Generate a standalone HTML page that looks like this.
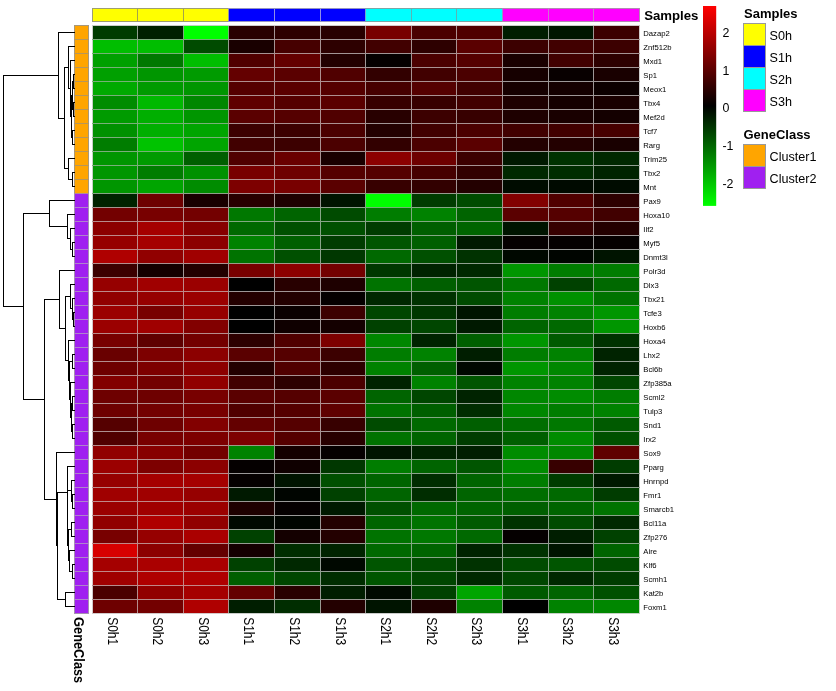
<!DOCTYPE html>
<html><head><meta charset="utf-8"><title>Heatmap</title>
<style>html,body{margin:0;padding:0;background:#fff}svg{display:block}text{font-family:"Liberation Sans",Arial,sans-serif;fill:#000}</style></head><body>
<svg width="836" height="691" viewBox="0 0 836 691">
<rect width="836" height="691" fill="#fff"/>
<g shape-rendering="crispEdges">
<rect x="92" y="8" width="136" height="14" fill="#ffff00"/>
<rect x="228" y="8" width="137" height="14" fill="#0000ff"/>
<rect x="365" y="8" width="137" height="14" fill="#00ffff"/>
<rect x="502" y="8" width="138" height="14" fill="#ff00ff"/>
<rect x="74" y="25" width="15" height="168" fill="#ffa500"/>
<rect x="74" y="193" width="15" height="421" fill="#a020f0"/>
<rect x="92" y="25" width="45" height="14" fill="#003c00"/>
<rect x="137" y="25" width="46" height="14" fill="#002000"/>
<rect x="183" y="25" width="45" height="14" fill="#00ff00"/>
<rect x="228" y="25" width="46" height="14" fill="#280000"/>
<rect x="274" y="25" width="46" height="14" fill="#2d0000"/>
<rect x="320" y="25" width="45" height="14" fill="#280000"/>
<rect x="365" y="25" width="46" height="14" fill="#780000"/>
<rect x="411" y="25" width="45" height="14" fill="#4b0000"/>
<rect x="456" y="25" width="46" height="14" fill="#500000"/>
<rect x="502" y="25" width="46" height="14" fill="#001e00"/>
<rect x="548" y="25" width="45" height="14" fill="#001600"/>
<rect x="593" y="25" width="46" height="14" fill="#3c0000"/>
<rect x="92" y="39" width="45" height="14" fill="#00be00"/>
<rect x="137" y="39" width="46" height="14" fill="#00be00"/>
<rect x="183" y="39" width="45" height="14" fill="#004b00"/>
<rect x="228" y="39" width="46" height="14" fill="#190000"/>
<rect x="274" y="39" width="46" height="14" fill="#460000"/>
<rect x="320" y="39" width="45" height="14" fill="#2d0000"/>
<rect x="365" y="39" width="46" height="14" fill="#410000"/>
<rect x="411" y="39" width="45" height="14" fill="#2d0000"/>
<rect x="456" y="39" width="46" height="14" fill="#5a0000"/>
<rect x="502" y="39" width="46" height="14" fill="#3c0000"/>
<rect x="548" y="39" width="45" height="14" fill="#410000"/>
<rect x="593" y="39" width="46" height="14" fill="#3c0000"/>
<rect x="92" y="53" width="45" height="14" fill="#00a000"/>
<rect x="137" y="53" width="46" height="14" fill="#007800"/>
<rect x="183" y="53" width="45" height="14" fill="#00be00"/>
<rect x="228" y="53" width="46" height="14" fill="#500000"/>
<rect x="274" y="53" width="46" height="14" fill="#640000"/>
<rect x="320" y="53" width="45" height="14" fill="#230000"/>
<rect x="365" y="53" width="46" height="14" fill="#050000"/>
<rect x="411" y="53" width="45" height="14" fill="#4b0000"/>
<rect x="456" y="53" width="46" height="14" fill="#550000"/>
<rect x="502" y="53" width="46" height="14" fill="#190000"/>
<rect x="548" y="53" width="45" height="14" fill="#410000"/>
<rect x="593" y="53" width="46" height="14" fill="#2d0000"/>
<rect x="92" y="67" width="45" height="14" fill="#00a000"/>
<rect x="137" y="67" width="46" height="14" fill="#009600"/>
<rect x="183" y="67" width="45" height="14" fill="#009b00"/>
<rect x="228" y="67" width="46" height="14" fill="#640000"/>
<rect x="274" y="67" width="46" height="14" fill="#5a0000"/>
<rect x="320" y="67" width="45" height="14" fill="#500000"/>
<rect x="365" y="67" width="46" height="14" fill="#320000"/>
<rect x="411" y="67" width="45" height="14" fill="#410000"/>
<rect x="456" y="67" width="46" height="14" fill="#4b0000"/>
<rect x="502" y="67" width="46" height="14" fill="#160000"/>
<rect x="548" y="67" width="45" height="14" fill="#080000"/>
<rect x="593" y="67" width="46" height="14" fill="#190000"/>
<rect x="92" y="81" width="45" height="14" fill="#00aa00"/>
<rect x="137" y="81" width="46" height="14" fill="#009b00"/>
<rect x="183" y="81" width="45" height="14" fill="#009600"/>
<rect x="228" y="81" width="46" height="14" fill="#550000"/>
<rect x="274" y="81" width="46" height="14" fill="#5a0000"/>
<rect x="320" y="81" width="45" height="14" fill="#550000"/>
<rect x="365" y="81" width="46" height="14" fill="#460000"/>
<rect x="411" y="81" width="45" height="14" fill="#550000"/>
<rect x="456" y="81" width="46" height="14" fill="#410000"/>
<rect x="502" y="81" width="46" height="14" fill="#160000"/>
<rect x="548" y="81" width="45" height="14" fill="#140000"/>
<rect x="593" y="81" width="46" height="14" fill="#0c0000"/>
<rect x="92" y="95" width="45" height="14" fill="#008c00"/>
<rect x="137" y="95" width="46" height="14" fill="#00b900"/>
<rect x="183" y="95" width="45" height="14" fill="#008700"/>
<rect x="228" y="95" width="46" height="14" fill="#5f0000"/>
<rect x="274" y="95" width="46" height="14" fill="#550000"/>
<rect x="320" y="95" width="45" height="14" fill="#5a0000"/>
<rect x="365" y="95" width="46" height="14" fill="#370000"/>
<rect x="411" y="95" width="45" height="14" fill="#370000"/>
<rect x="456" y="95" width="46" height="14" fill="#410000"/>
<rect x="502" y="95" width="46" height="14" fill="#1e0000"/>
<rect x="548" y="95" width="45" height="14" fill="#140000"/>
<rect x="593" y="95" width="46" height="14" fill="#190000"/>
<rect x="92" y="109" width="45" height="14" fill="#009b00"/>
<rect x="137" y="109" width="46" height="14" fill="#00af00"/>
<rect x="183" y="109" width="45" height="14" fill="#009600"/>
<rect x="228" y="109" width="46" height="14" fill="#5a0000"/>
<rect x="274" y="109" width="46" height="14" fill="#550000"/>
<rect x="320" y="109" width="45" height="14" fill="#500000"/>
<rect x="365" y="109" width="46" height="14" fill="#280000"/>
<rect x="411" y="109" width="45" height="14" fill="#3c0000"/>
<rect x="456" y="109" width="46" height="14" fill="#370000"/>
<rect x="502" y="109" width="46" height="14" fill="#1e0000"/>
<rect x="548" y="109" width="45" height="14" fill="#190000"/>
<rect x="593" y="109" width="46" height="14" fill="#140000"/>
<rect x="92" y="123" width="45" height="14" fill="#009100"/>
<rect x="137" y="123" width="46" height="14" fill="#00af00"/>
<rect x="183" y="123" width="45" height="14" fill="#00a500"/>
<rect x="228" y="123" width="46" height="14" fill="#3c0000"/>
<rect x="274" y="123" width="46" height="14" fill="#3c0000"/>
<rect x="320" y="123" width="45" height="14" fill="#4b0000"/>
<rect x="365" y="123" width="46" height="14" fill="#230000"/>
<rect x="411" y="123" width="45" height="14" fill="#410000"/>
<rect x="456" y="123" width="46" height="14" fill="#4b0000"/>
<rect x="502" y="123" width="46" height="14" fill="#410000"/>
<rect x="548" y="123" width="45" height="14" fill="#410000"/>
<rect x="593" y="123" width="46" height="14" fill="#460000"/>
<rect x="92" y="137" width="45" height="14" fill="#007d00"/>
<rect x="137" y="137" width="46" height="14" fill="#00c300"/>
<rect x="183" y="137" width="45" height="14" fill="#00a500"/>
<rect x="228" y="137" width="46" height="14" fill="#410000"/>
<rect x="274" y="137" width="46" height="14" fill="#3c0000"/>
<rect x="320" y="137" width="45" height="14" fill="#4b0000"/>
<rect x="365" y="137" width="46" height="14" fill="#320000"/>
<rect x="411" y="137" width="45" height="14" fill="#4b0000"/>
<rect x="456" y="137" width="46" height="14" fill="#5a0000"/>
<rect x="502" y="137" width="46" height="14" fill="#230000"/>
<rect x="548" y="137" width="45" height="14" fill="#230000"/>
<rect x="593" y="137" width="46" height="14" fill="#190000"/>
<rect x="92" y="151" width="45" height="14" fill="#009600"/>
<rect x="137" y="151" width="46" height="14" fill="#009b00"/>
<rect x="183" y="151" width="45" height="14" fill="#005f00"/>
<rect x="228" y="151" width="46" height="14" fill="#500000"/>
<rect x="274" y="151" width="46" height="14" fill="#690000"/>
<rect x="320" y="151" width="45" height="14" fill="#190000"/>
<rect x="365" y="151" width="46" height="14" fill="#8c0000"/>
<rect x="411" y="151" width="45" height="14" fill="#6e0000"/>
<rect x="456" y="151" width="46" height="14" fill="#3c0000"/>
<rect x="502" y="151" width="46" height="14" fill="#001900"/>
<rect x="548" y="151" width="45" height="14" fill="#003200"/>
<rect x="593" y="151" width="46" height="14" fill="#002800"/>
<rect x="92" y="165" width="45" height="14" fill="#009600"/>
<rect x="137" y="165" width="46" height="14" fill="#007d00"/>
<rect x="183" y="165" width="45" height="14" fill="#009100"/>
<rect x="228" y="165" width="46" height="14" fill="#780000"/>
<rect x="274" y="165" width="46" height="14" fill="#6e0000"/>
<rect x="320" y="165" width="45" height="14" fill="#550000"/>
<rect x="365" y="165" width="46" height="14" fill="#550000"/>
<rect x="411" y="165" width="45" height="14" fill="#460000"/>
<rect x="456" y="165" width="46" height="14" fill="#320000"/>
<rect x="502" y="165" width="46" height="14" fill="#002800"/>
<rect x="548" y="165" width="45" height="14" fill="#002d00"/>
<rect x="593" y="165" width="46" height="14" fill="#002300"/>
<rect x="92" y="179" width="45" height="14" fill="#009600"/>
<rect x="137" y="179" width="46" height="14" fill="#00a500"/>
<rect x="183" y="179" width="45" height="14" fill="#008c00"/>
<rect x="228" y="179" width="46" height="14" fill="#7d0000"/>
<rect x="274" y="179" width="46" height="14" fill="#780000"/>
<rect x="320" y="179" width="45" height="14" fill="#5a0000"/>
<rect x="365" y="179" width="46" height="14" fill="#370000"/>
<rect x="411" y="179" width="45" height="14" fill="#320000"/>
<rect x="456" y="179" width="46" height="14" fill="#230000"/>
<rect x="502" y="179" width="46" height="14" fill="#000c00"/>
<rect x="548" y="179" width="45" height="14" fill="#000a00"/>
<rect x="593" y="179" width="46" height="14" fill="#000c00"/>
<rect x="92" y="193" width="45" height="14" fill="#002300"/>
<rect x="137" y="193" width="46" height="14" fill="#6e0000"/>
<rect x="183" y="193" width="45" height="14" fill="#190000"/>
<rect x="228" y="193" width="46" height="14" fill="#280000"/>
<rect x="274" y="193" width="46" height="14" fill="#1e0000"/>
<rect x="320" y="193" width="45" height="14" fill="#001400"/>
<rect x="365" y="193" width="46" height="14" fill="#00ff00"/>
<rect x="411" y="193" width="45" height="14" fill="#003c00"/>
<rect x="456" y="193" width="46" height="14" fill="#004b00"/>
<rect x="502" y="193" width="46" height="14" fill="#820000"/>
<rect x="548" y="193" width="45" height="14" fill="#500000"/>
<rect x="593" y="193" width="46" height="14" fill="#2d0000"/>
<rect x="92" y="207" width="45" height="14" fill="#730000"/>
<rect x="137" y="207" width="46" height="14" fill="#780000"/>
<rect x="183" y="207" width="45" height="14" fill="#730000"/>
<rect x="228" y="207" width="46" height="14" fill="#007800"/>
<rect x="274" y="207" width="46" height="14" fill="#006400"/>
<rect x="320" y="207" width="45" height="14" fill="#004b00"/>
<rect x="365" y="207" width="46" height="14" fill="#007d00"/>
<rect x="411" y="207" width="45" height="14" fill="#008200"/>
<rect x="456" y="207" width="46" height="14" fill="#006400"/>
<rect x="502" y="207" width="46" height="14" fill="#5a0000"/>
<rect x="548" y="207" width="45" height="14" fill="#550000"/>
<rect x="593" y="207" width="46" height="14" fill="#410000"/>
<rect x="92" y="221" width="45" height="14" fill="#8c0000"/>
<rect x="137" y="221" width="46" height="14" fill="#a50000"/>
<rect x="183" y="221" width="45" height="14" fill="#870000"/>
<rect x="228" y="221" width="46" height="14" fill="#006900"/>
<rect x="274" y="221" width="46" height="14" fill="#005000"/>
<rect x="320" y="221" width="45" height="14" fill="#005000"/>
<rect x="365" y="221" width="46" height="14" fill="#003c00"/>
<rect x="411" y="221" width="45" height="14" fill="#005f00"/>
<rect x="456" y="221" width="46" height="14" fill="#006400"/>
<rect x="502" y="221" width="46" height="14" fill="#001400"/>
<rect x="548" y="221" width="45" height="14" fill="#370000"/>
<rect x="593" y="221" width="46" height="14" fill="#230000"/>
<rect x="92" y="235" width="45" height="14" fill="#960000"/>
<rect x="137" y="235" width="46" height="14" fill="#a50000"/>
<rect x="183" y="235" width="45" height="14" fill="#8c0000"/>
<rect x="228" y="235" width="46" height="14" fill="#008200"/>
<rect x="274" y="235" width="46" height="14" fill="#005f00"/>
<rect x="320" y="235" width="45" height="14" fill="#003c00"/>
<rect x="365" y="235" width="46" height="14" fill="#005500"/>
<rect x="411" y="235" width="45" height="14" fill="#005f00"/>
<rect x="456" y="235" width="46" height="14" fill="#001900"/>
<rect x="502" y="235" width="46" height="14" fill="#050000"/>
<rect x="548" y="235" width="45" height="14" fill="#050000"/>
<rect x="593" y="235" width="46" height="14" fill="#050000"/>
<rect x="92" y="249" width="45" height="14" fill="#af0000"/>
<rect x="137" y="249" width="46" height="14" fill="#910000"/>
<rect x="183" y="249" width="45" height="14" fill="#a00000"/>
<rect x="228" y="249" width="46" height="14" fill="#007300"/>
<rect x="274" y="249" width="46" height="14" fill="#005000"/>
<rect x="320" y="249" width="45" height="14" fill="#003700"/>
<rect x="365" y="249" width="46" height="14" fill="#006900"/>
<rect x="411" y="249" width="45" height="14" fill="#005000"/>
<rect x="456" y="249" width="46" height="14" fill="#003200"/>
<rect x="502" y="249" width="46" height="14" fill="#000800"/>
<rect x="548" y="249" width="45" height="14" fill="#000500"/>
<rect x="593" y="249" width="46" height="14" fill="#001400"/>
<rect x="92" y="263" width="45" height="14" fill="#3c0000"/>
<rect x="137" y="263" width="46" height="14" fill="#140000"/>
<rect x="183" y="263" width="45" height="14" fill="#230000"/>
<rect x="228" y="263" width="46" height="14" fill="#780000"/>
<rect x="274" y="263" width="46" height="14" fill="#8c0000"/>
<rect x="320" y="263" width="45" height="14" fill="#730000"/>
<rect x="365" y="263" width="46" height="14" fill="#003700"/>
<rect x="411" y="263" width="45" height="14" fill="#002300"/>
<rect x="456" y="263" width="46" height="14" fill="#002800"/>
<rect x="502" y="263" width="46" height="14" fill="#009600"/>
<rect x="548" y="263" width="45" height="14" fill="#007d00"/>
<rect x="593" y="263" width="46" height="14" fill="#007d00"/>
<rect x="92" y="277" width="45" height="14" fill="#960000"/>
<rect x="137" y="277" width="46" height="14" fill="#a00000"/>
<rect x="183" y="277" width="45" height="14" fill="#9b0000"/>
<rect x="228" y="277" width="46" height="14" fill="#000000"/>
<rect x="274" y="277" width="46" height="14" fill="#280000"/>
<rect x="320" y="277" width="45" height="14" fill="#1e0000"/>
<rect x="365" y="277" width="46" height="14" fill="#007300"/>
<rect x="411" y="277" width="45" height="14" fill="#005f00"/>
<rect x="456" y="277" width="46" height="14" fill="#005500"/>
<rect x="502" y="277" width="46" height="14" fill="#007800"/>
<rect x="548" y="277" width="45" height="14" fill="#004100"/>
<rect x="593" y="277" width="46" height="14" fill="#006900"/>
<rect x="92" y="291" width="45" height="14" fill="#910000"/>
<rect x="137" y="291" width="46" height="14" fill="#960000"/>
<rect x="183" y="291" width="45" height="14" fill="#9b0000"/>
<rect x="228" y="291" width="46" height="14" fill="#230000"/>
<rect x="274" y="291" width="46" height="14" fill="#230000"/>
<rect x="320" y="291" width="45" height="14" fill="#050000"/>
<rect x="365" y="291" width="46" height="14" fill="#002800"/>
<rect x="411" y="291" width="45" height="14" fill="#003200"/>
<rect x="456" y="291" width="46" height="14" fill="#004b00"/>
<rect x="502" y="291" width="46" height="14" fill="#008200"/>
<rect x="548" y="291" width="45" height="14" fill="#009100"/>
<rect x="593" y="291" width="46" height="14" fill="#007300"/>
<rect x="92" y="305" width="45" height="14" fill="#9b0000"/>
<rect x="137" y="305" width="46" height="14" fill="#780000"/>
<rect x="183" y="305" width="45" height="14" fill="#960000"/>
<rect x="228" y="305" width="46" height="14" fill="#000000"/>
<rect x="274" y="305" width="46" height="14" fill="#0a0000"/>
<rect x="320" y="305" width="45" height="14" fill="#3c0000"/>
<rect x="365" y="305" width="46" height="14" fill="#004600"/>
<rect x="411" y="305" width="45" height="14" fill="#003700"/>
<rect x="456" y="305" width="46" height="14" fill="#001400"/>
<rect x="502" y="305" width="46" height="14" fill="#007d00"/>
<rect x="548" y="305" width="45" height="14" fill="#008200"/>
<rect x="593" y="305" width="46" height="14" fill="#009600"/>
<rect x="92" y="319" width="45" height="14" fill="#9b0000"/>
<rect x="137" y="319" width="46" height="14" fill="#a00000"/>
<rect x="183" y="319" width="45" height="14" fill="#820000"/>
<rect x="228" y="319" width="46" height="14" fill="#000000"/>
<rect x="274" y="319" width="46" height="14" fill="#0f0000"/>
<rect x="320" y="319" width="45" height="14" fill="#140000"/>
<rect x="365" y="319" width="46" height="14" fill="#004100"/>
<rect x="411" y="319" width="45" height="14" fill="#004600"/>
<rect x="456" y="319" width="46" height="14" fill="#001900"/>
<rect x="502" y="319" width="46" height="14" fill="#006400"/>
<rect x="548" y="319" width="45" height="14" fill="#006900"/>
<rect x="593" y="319" width="46" height="14" fill="#009600"/>
<rect x="92" y="333" width="45" height="14" fill="#780000"/>
<rect x="137" y="333" width="46" height="14" fill="#5f0000"/>
<rect x="183" y="333" width="45" height="14" fill="#730000"/>
<rect x="228" y="333" width="46" height="14" fill="#2d0000"/>
<rect x="274" y="333" width="46" height="14" fill="#500000"/>
<rect x="320" y="333" width="45" height="14" fill="#7d0000"/>
<rect x="365" y="333" width="46" height="14" fill="#008700"/>
<rect x="411" y="333" width="45" height="14" fill="#002300"/>
<rect x="456" y="333" width="46" height="14" fill="#005f00"/>
<rect x="502" y="333" width="46" height="14" fill="#009600"/>
<rect x="548" y="333" width="45" height="14" fill="#005a00"/>
<rect x="593" y="333" width="46" height="14" fill="#003200"/>
<rect x="92" y="347" width="45" height="14" fill="#690000"/>
<rect x="137" y="347" width="46" height="14" fill="#7d0000"/>
<rect x="183" y="347" width="45" height="14" fill="#8c0000"/>
<rect x="228" y="347" width="46" height="14" fill="#5a0000"/>
<rect x="274" y="347" width="46" height="14" fill="#550000"/>
<rect x="320" y="347" width="45" height="14" fill="#3c0000"/>
<rect x="365" y="347" width="46" height="14" fill="#007d00"/>
<rect x="411" y="347" width="45" height="14" fill="#008200"/>
<rect x="456" y="347" width="46" height="14" fill="#001e00"/>
<rect x="502" y="347" width="46" height="14" fill="#007d00"/>
<rect x="548" y="347" width="45" height="14" fill="#008200"/>
<rect x="593" y="347" width="46" height="14" fill="#002300"/>
<rect x="92" y="361" width="45" height="14" fill="#6e0000"/>
<rect x="137" y="361" width="46" height="14" fill="#7d0000"/>
<rect x="183" y="361" width="45" height="14" fill="#8c0000"/>
<rect x="228" y="361" width="46" height="14" fill="#230000"/>
<rect x="274" y="361" width="46" height="14" fill="#500000"/>
<rect x="320" y="361" width="45" height="14" fill="#2d0000"/>
<rect x="365" y="361" width="46" height="14" fill="#008200"/>
<rect x="411" y="361" width="45" height="14" fill="#005f00"/>
<rect x="456" y="361" width="46" height="14" fill="#000800"/>
<rect x="502" y="361" width="46" height="14" fill="#009600"/>
<rect x="548" y="361" width="45" height="14" fill="#008700"/>
<rect x="593" y="361" width="46" height="14" fill="#002300"/>
<rect x="92" y="375" width="45" height="14" fill="#820000"/>
<rect x="137" y="375" width="46" height="14" fill="#730000"/>
<rect x="183" y="375" width="45" height="14" fill="#910000"/>
<rect x="228" y="375" width="46" height="14" fill="#410000"/>
<rect x="274" y="375" width="46" height="14" fill="#2d0000"/>
<rect x="320" y="375" width="45" height="14" fill="#4b0000"/>
<rect x="365" y="375" width="46" height="14" fill="#002300"/>
<rect x="411" y="375" width="45" height="14" fill="#008200"/>
<rect x="456" y="375" width="46" height="14" fill="#005500"/>
<rect x="502" y="375" width="46" height="14" fill="#008200"/>
<rect x="548" y="375" width="45" height="14" fill="#008200"/>
<rect x="593" y="375" width="46" height="14" fill="#004600"/>
<rect x="92" y="389" width="45" height="14" fill="#6e0000"/>
<rect x="137" y="389" width="46" height="14" fill="#6e0000"/>
<rect x="183" y="389" width="45" height="14" fill="#780000"/>
<rect x="228" y="389" width="46" height="14" fill="#5a0000"/>
<rect x="274" y="389" width="46" height="14" fill="#550000"/>
<rect x="320" y="389" width="45" height="14" fill="#5a0000"/>
<rect x="365" y="389" width="46" height="14" fill="#006400"/>
<rect x="411" y="389" width="45" height="14" fill="#004600"/>
<rect x="456" y="389" width="46" height="14" fill="#002300"/>
<rect x="502" y="389" width="46" height="14" fill="#008700"/>
<rect x="548" y="389" width="45" height="14" fill="#008c00"/>
<rect x="593" y="389" width="46" height="14" fill="#007d00"/>
<rect x="92" y="403" width="45" height="14" fill="#6e0000"/>
<rect x="137" y="403" width="46" height="14" fill="#730000"/>
<rect x="183" y="403" width="45" height="14" fill="#780000"/>
<rect x="228" y="403" width="46" height="14" fill="#500000"/>
<rect x="274" y="403" width="46" height="14" fill="#550000"/>
<rect x="320" y="403" width="45" height="14" fill="#5f0000"/>
<rect x="365" y="403" width="46" height="14" fill="#007300"/>
<rect x="411" y="403" width="45" height="14" fill="#005f00"/>
<rect x="456" y="403" width="46" height="14" fill="#002d00"/>
<rect x="502" y="403" width="46" height="14" fill="#008700"/>
<rect x="548" y="403" width="45" height="14" fill="#007d00"/>
<rect x="593" y="403" width="46" height="14" fill="#008200"/>
<rect x="92" y="417" width="45" height="14" fill="#550000"/>
<rect x="137" y="417" width="46" height="14" fill="#6e0000"/>
<rect x="183" y="417" width="45" height="14" fill="#820000"/>
<rect x="228" y="417" width="46" height="14" fill="#640000"/>
<rect x="274" y="417" width="46" height="14" fill="#550000"/>
<rect x="320" y="417" width="45" height="14" fill="#370000"/>
<rect x="365" y="417" width="46" height="14" fill="#004b00"/>
<rect x="411" y="417" width="45" height="14" fill="#006900"/>
<rect x="456" y="417" width="46" height="14" fill="#005f00"/>
<rect x="502" y="417" width="46" height="14" fill="#006e00"/>
<rect x="548" y="417" width="45" height="14" fill="#007800"/>
<rect x="593" y="417" width="46" height="14" fill="#005a00"/>
<rect x="92" y="431" width="45" height="14" fill="#500000"/>
<rect x="137" y="431" width="46" height="14" fill="#780000"/>
<rect x="183" y="431" width="45" height="14" fill="#7d0000"/>
<rect x="228" y="431" width="46" height="14" fill="#7d0000"/>
<rect x="274" y="431" width="46" height="14" fill="#550000"/>
<rect x="320" y="431" width="45" height="14" fill="#280000"/>
<rect x="365" y="431" width="46" height="14" fill="#007300"/>
<rect x="411" y="431" width="45" height="14" fill="#006400"/>
<rect x="456" y="431" width="46" height="14" fill="#003c00"/>
<rect x="502" y="431" width="46" height="14" fill="#005f00"/>
<rect x="548" y="431" width="45" height="14" fill="#008c00"/>
<rect x="593" y="431" width="46" height="14" fill="#005000"/>
<rect x="92" y="445" width="45" height="14" fill="#910000"/>
<rect x="137" y="445" width="46" height="14" fill="#870000"/>
<rect x="183" y="445" width="45" height="14" fill="#730000"/>
<rect x="228" y="445" width="46" height="14" fill="#008200"/>
<rect x="274" y="445" width="46" height="14" fill="#140000"/>
<rect x="320" y="445" width="45" height="14" fill="#050000"/>
<rect x="365" y="445" width="46" height="14" fill="#001400"/>
<rect x="411" y="445" width="45" height="14" fill="#002300"/>
<rect x="456" y="445" width="46" height="14" fill="#001e00"/>
<rect x="502" y="445" width="46" height="14" fill="#008c00"/>
<rect x="548" y="445" width="45" height="14" fill="#008700"/>
<rect x="593" y="445" width="46" height="14" fill="#5f0000"/>
<rect x="92" y="459" width="45" height="14" fill="#9b0000"/>
<rect x="137" y="459" width="46" height="14" fill="#7d0000"/>
<rect x="183" y="459" width="45" height="14" fill="#8c0000"/>
<rect x="228" y="459" width="46" height="14" fill="#050000"/>
<rect x="274" y="459" width="46" height="14" fill="#0f0000"/>
<rect x="320" y="459" width="45" height="14" fill="#003700"/>
<rect x="365" y="459" width="46" height="14" fill="#007d00"/>
<rect x="411" y="459" width="45" height="14" fill="#006400"/>
<rect x="456" y="459" width="46" height="14" fill="#005500"/>
<rect x="502" y="459" width="46" height="14" fill="#008c00"/>
<rect x="548" y="459" width="45" height="14" fill="#370000"/>
<rect x="593" y="459" width="46" height="14" fill="#003c00"/>
<rect x="92" y="473" width="45" height="14" fill="#960000"/>
<rect x="137" y="473" width="46" height="14" fill="#a50000"/>
<rect x="183" y="473" width="45" height="14" fill="#a50000"/>
<rect x="228" y="473" width="46" height="14" fill="#050000"/>
<rect x="274" y="473" width="46" height="14" fill="#001400"/>
<rect x="320" y="473" width="45" height="14" fill="#005000"/>
<rect x="365" y="473" width="46" height="14" fill="#006400"/>
<rect x="411" y="473" width="45" height="14" fill="#002d00"/>
<rect x="456" y="473" width="46" height="14" fill="#006400"/>
<rect x="502" y="473" width="46" height="14" fill="#007d00"/>
<rect x="548" y="473" width="45" height="14" fill="#003c00"/>
<rect x="593" y="473" width="46" height="14" fill="#001900"/>
<rect x="92" y="487" width="45" height="14" fill="#a00000"/>
<rect x="137" y="487" width="46" height="14" fill="#a00000"/>
<rect x="183" y="487" width="45" height="14" fill="#960000"/>
<rect x="228" y="487" width="46" height="14" fill="#001900"/>
<rect x="274" y="487" width="46" height="14" fill="#000500"/>
<rect x="320" y="487" width="45" height="14" fill="#004100"/>
<rect x="365" y="487" width="46" height="14" fill="#006400"/>
<rect x="411" y="487" width="45" height="14" fill="#002d00"/>
<rect x="456" y="487" width="46" height="14" fill="#006400"/>
<rect x="502" y="487" width="46" height="14" fill="#006e00"/>
<rect x="548" y="487" width="45" height="14" fill="#006900"/>
<rect x="593" y="487" width="46" height="14" fill="#003c00"/>
<rect x="92" y="501" width="45" height="14" fill="#9b0000"/>
<rect x="137" y="501" width="46" height="14" fill="#a00000"/>
<rect x="183" y="501" width="45" height="14" fill="#9b0000"/>
<rect x="228" y="501" width="46" height="14" fill="#1e0000"/>
<rect x="274" y="501" width="46" height="14" fill="#050000"/>
<rect x="320" y="501" width="45" height="14" fill="#001900"/>
<rect x="365" y="501" width="46" height="14" fill="#005000"/>
<rect x="411" y="501" width="45" height="14" fill="#006900"/>
<rect x="456" y="501" width="46" height="14" fill="#006400"/>
<rect x="502" y="501" width="46" height="14" fill="#005f00"/>
<rect x="548" y="501" width="45" height="14" fill="#006400"/>
<rect x="593" y="501" width="46" height="14" fill="#007300"/>
<rect x="92" y="515" width="45" height="14" fill="#910000"/>
<rect x="137" y="515" width="46" height="14" fill="#af0000"/>
<rect x="183" y="515" width="45" height="14" fill="#910000"/>
<rect x="228" y="515" width="46" height="14" fill="#000800"/>
<rect x="274" y="515" width="46" height="14" fill="#000500"/>
<rect x="320" y="515" width="45" height="14" fill="#230000"/>
<rect x="365" y="515" width="46" height="14" fill="#006400"/>
<rect x="411" y="515" width="45" height="14" fill="#007300"/>
<rect x="456" y="515" width="46" height="14" fill="#005a00"/>
<rect x="502" y="515" width="46" height="14" fill="#003200"/>
<rect x="548" y="515" width="45" height="14" fill="#004b00"/>
<rect x="593" y="515" width="46" height="14" fill="#002800"/>
<rect x="92" y="529" width="45" height="14" fill="#780000"/>
<rect x="137" y="529" width="46" height="14" fill="#960000"/>
<rect x="183" y="529" width="45" height="14" fill="#aa0000"/>
<rect x="228" y="529" width="46" height="14" fill="#004100"/>
<rect x="274" y="529" width="46" height="14" fill="#140000"/>
<rect x="320" y="529" width="45" height="14" fill="#230000"/>
<rect x="365" y="529" width="46" height="14" fill="#007300"/>
<rect x="411" y="529" width="45" height="14" fill="#007800"/>
<rect x="456" y="529" width="46" height="14" fill="#006900"/>
<rect x="502" y="529" width="46" height="14" fill="#050000"/>
<rect x="548" y="529" width="45" height="14" fill="#001e00"/>
<rect x="593" y="529" width="46" height="14" fill="#004100"/>
<rect x="92" y="543" width="45" height="14" fill="#d70000"/>
<rect x="137" y="543" width="46" height="14" fill="#8c0000"/>
<rect x="183" y="543" width="45" height="14" fill="#640000"/>
<rect x="228" y="543" width="46" height="14" fill="#140000"/>
<rect x="274" y="543" width="46" height="14" fill="#002d00"/>
<rect x="320" y="543" width="45" height="14" fill="#002300"/>
<rect x="365" y="543" width="46" height="14" fill="#006900"/>
<rect x="411" y="543" width="45" height="14" fill="#006400"/>
<rect x="456" y="543" width="46" height="14" fill="#002300"/>
<rect x="502" y="543" width="46" height="14" fill="#003200"/>
<rect x="548" y="543" width="45" height="14" fill="#001400"/>
<rect x="593" y="543" width="46" height="14" fill="#006400"/>
<rect x="92" y="557" width="45" height="14" fill="#a50000"/>
<rect x="137" y="557" width="46" height="14" fill="#aa0000"/>
<rect x="183" y="557" width="45" height="14" fill="#aa0000"/>
<rect x="228" y="557" width="46" height="14" fill="#004100"/>
<rect x="274" y="557" width="46" height="14" fill="#002800"/>
<rect x="320" y="557" width="45" height="14" fill="#000800"/>
<rect x="365" y="557" width="46" height="14" fill="#005500"/>
<rect x="411" y="557" width="45" height="14" fill="#004b00"/>
<rect x="456" y="557" width="46" height="14" fill="#003200"/>
<rect x="502" y="557" width="46" height="14" fill="#004b00"/>
<rect x="548" y="557" width="45" height="14" fill="#005500"/>
<rect x="593" y="557" width="46" height="14" fill="#004b00"/>
<rect x="92" y="571" width="45" height="14" fill="#a00000"/>
<rect x="137" y="571" width="46" height="14" fill="#af0000"/>
<rect x="183" y="571" width="45" height="14" fill="#af0000"/>
<rect x="228" y="571" width="46" height="14" fill="#005f00"/>
<rect x="274" y="571" width="46" height="14" fill="#004600"/>
<rect x="320" y="571" width="45" height="14" fill="#002d00"/>
<rect x="365" y="571" width="46" height="14" fill="#005500"/>
<rect x="411" y="571" width="45" height="14" fill="#004600"/>
<rect x="456" y="571" width="46" height="14" fill="#002800"/>
<rect x="502" y="571" width="46" height="14" fill="#004600"/>
<rect x="548" y="571" width="45" height="14" fill="#002800"/>
<rect x="593" y="571" width="46" height="14" fill="#003c00"/>
<rect x="92" y="585" width="45" height="14" fill="#4b0000"/>
<rect x="137" y="585" width="46" height="14" fill="#910000"/>
<rect x="183" y="585" width="45" height="14" fill="#a50000"/>
<rect x="228" y="585" width="46" height="14" fill="#640000"/>
<rect x="274" y="585" width="46" height="14" fill="#280000"/>
<rect x="320" y="585" width="45" height="14" fill="#001e00"/>
<rect x="365" y="585" width="46" height="14" fill="#000a00"/>
<rect x="411" y="585" width="45" height="14" fill="#004100"/>
<rect x="456" y="585" width="46" height="14" fill="#00a500"/>
<rect x="502" y="585" width="46" height="14" fill="#005a00"/>
<rect x="548" y="585" width="45" height="14" fill="#006400"/>
<rect x="593" y="585" width="46" height="14" fill="#005000"/>
<rect x="92" y="599" width="45" height="14" fill="#6e0000"/>
<rect x="137" y="599" width="46" height="14" fill="#730000"/>
<rect x="183" y="599" width="45" height="14" fill="#af0000"/>
<rect x="228" y="599" width="46" height="14" fill="#001e00"/>
<rect x="274" y="599" width="46" height="14" fill="#002d00"/>
<rect x="320" y="599" width="45" height="14" fill="#230000"/>
<rect x="365" y="599" width="46" height="14" fill="#001400"/>
<rect x="411" y="599" width="45" height="14" fill="#1e0000"/>
<rect x="456" y="599" width="46" height="14" fill="#008200"/>
<rect x="502" y="599" width="46" height="14" fill="#000000"/>
<rect x="548" y="599" width="45" height="14" fill="#008200"/>
<rect x="593" y="599" width="46" height="14" fill="#008700"/>
<rect x="92" y="25" width="1" height="14" fill="#c9cec9"/>
<rect x="92" y="39" width="1" height="14" fill="#c2d3c2"/>
<rect x="92" y="53" width="1" height="14" fill="#c4d2c4"/>
<rect x="92" y="67" width="1" height="14" fill="#c4d2c4"/>
<rect x="92" y="81" width="1" height="14" fill="#c4d2c4"/>
<rect x="92" y="95" width="1" height="14" fill="#c5d1c5"/>
<rect x="92" y="109" width="1" height="14" fill="#c4d2c4"/>
<rect x="92" y="123" width="1" height="14" fill="#c4d1c4"/>
<rect x="92" y="137" width="1" height="14" fill="#c6d0c6"/>
<rect x="92" y="151" width="1" height="14" fill="#c4d2c4"/>
<rect x="92" y="165" width="1" height="14" fill="#c4d2c4"/>
<rect x="92" y="179" width="1" height="14" fill="#c4d2c4"/>
<rect x="92" y="193" width="1" height="14" fill="#caceca"/>
<rect x="92" y="207" width="1" height="14" fill="#d3c9c9"/>
<rect x="92" y="221" width="1" height="14" fill="#d4c8c8"/>
<rect x="92" y="235" width="1" height="14" fill="#d5c8c8"/>
<rect x="92" y="249" width="1" height="14" fill="#d6c8c8"/>
<rect x="92" y="263" width="1" height="14" fill="#d0caca"/>
<rect x="92" y="277" width="1" height="14" fill="#d5c8c8"/>
<rect x="92" y="291" width="1" height="14" fill="#d5c8c8"/>
<rect x="92" y="305" width="1" height="14" fill="#d6c8c8"/>
<rect x="92" y="319" width="1" height="14" fill="#d6c8c8"/>
<rect x="92" y="333" width="1" height="14" fill="#d4c9c9"/>
<rect x="92" y="347" width="1" height="14" fill="#d2caca"/>
<rect x="92" y="361" width="1" height="14" fill="#d2c9c9"/>
<rect x="92" y="375" width="1" height="14" fill="#d4c8c8"/>
<rect x="92" y="389" width="1" height="14" fill="#d2c9c9"/>
<rect x="92" y="403" width="1" height="14" fill="#d2c9c9"/>
<rect x="92" y="417" width="1" height="14" fill="#d1caca"/>
<rect x="92" y="431" width="1" height="14" fill="#d1caca"/>
<rect x="92" y="445" width="1" height="14" fill="#d5c8c8"/>
<rect x="92" y="459" width="1" height="14" fill="#d6c8c8"/>
<rect x="92" y="473" width="1" height="14" fill="#d5c8c8"/>
<rect x="92" y="487" width="1" height="14" fill="#d6c8c8"/>
<rect x="92" y="501" width="1" height="14" fill="#d6c8c8"/>
<rect x="92" y="515" width="1" height="14" fill="#d5c8c8"/>
<rect x="92" y="529" width="1" height="14" fill="#d4c9c9"/>
<rect x="92" y="543" width="1" height="14" fill="#d9c6c6"/>
<rect x="92" y="557" width="1" height="14" fill="#d6c8c8"/>
<rect x="92" y="571" width="1" height="14" fill="#d6c8c8"/>
<rect x="92" y="585" width="1" height="14" fill="#d0caca"/>
<rect x="92" y="599" width="1" height="14" fill="#d2c9c9"/>
<rect x="137" y="25" width="1" height="14" fill="#90a090"/>
<rect x="137" y="39" width="1" height="14" fill="#72b472"/>
<rect x="137" y="53" width="1" height="14" fill="#7cad7c"/>
<rect x="137" y="67" width="1" height="14" fill="#79af79"/>
<rect x="137" y="81" width="1" height="14" fill="#78b078"/>
<rect x="137" y="95" width="1" height="14" fill="#78b078"/>
<rect x="137" y="109" width="1" height="14" fill="#77b177"/>
<rect x="137" y="123" width="1" height="14" fill="#78b078"/>
<rect x="137" y="137" width="1" height="14" fill="#78b078"/>
<rect x="137" y="151" width="1" height="14" fill="#7aaf7a"/>
<rect x="137" y="165" width="1" height="14" fill="#7dad7d"/>
<rect x="137" y="179" width="1" height="14" fill="#79b079"/>
<rect x="137" y="193" width="1" height="14" fill="#a39690"/>
<rect x="137" y="207" width="1" height="14" fill="#b68d8d"/>
<rect x="137" y="221" width="1" height="14" fill="#be8989"/>
<rect x="137" y="235" width="1" height="14" fill="#c08989"/>
<rect x="137" y="249" width="1" height="14" fill="#c08888"/>
<rect x="137" y="263" width="1" height="14" fill="#a39595"/>
<rect x="137" y="277" width="1" height="14" fill="#bf8989"/>
<rect x="137" y="291" width="1" height="14" fill="#bd8a8a"/>
<rect x="137" y="305" width="1" height="14" fill="#bb8b8b"/>
<rect x="137" y="319" width="1" height="14" fill="#c08989"/>
<rect x="137" y="333" width="1" height="14" fill="#b38e8e"/>
<rect x="137" y="347" width="1" height="14" fill="#b58d8d"/>
<rect x="137" y="361" width="1" height="14" fill="#b68d8d"/>
<rect x="137" y="375" width="1" height="14" fill="#b78c8c"/>
<rect x="137" y="389" width="1" height="14" fill="#b48d8d"/>
<rect x="137" y="403" width="1" height="14" fill="#b58d8d"/>
<rect x="137" y="417" width="1" height="14" fill="#b18f8f"/>
<rect x="137" y="431" width="1" height="14" fill="#b28f8f"/>
<rect x="137" y="445" width="1" height="14" fill="#bb8a8a"/>
<rect x="137" y="459" width="1" height="14" fill="#bb8a8a"/>
<rect x="137" y="473" width="1" height="14" fill="#c08989"/>
<rect x="137" y="487" width="1" height="14" fill="#c08888"/>
<rect x="137" y="501" width="1" height="14" fill="#c08989"/>
<rect x="137" y="515" width="1" height="14" fill="#c08888"/>
<rect x="137" y="529" width="1" height="14" fill="#ba8b8b"/>
<rect x="137" y="543" width="1" height="14" fill="#c58686"/>
<rect x="137" y="557" width="1" height="14" fill="#c28787"/>
<rect x="137" y="571" width="1" height="14" fill="#c28787"/>
<rect x="137" y="585" width="1" height="14" fill="#b48d8d"/>
<rect x="137" y="599" width="1" height="14" fill="#b58d8d"/>
<rect x="183" y="25" width="1" height="14" fill="#7cae7c"/>
<rect x="183" y="39" width="1" height="14" fill="#7eac7e"/>
<rect x="183" y="53" width="1" height="14" fill="#79af79"/>
<rect x="183" y="67" width="1" height="14" fill="#7aaf7a"/>
<rect x="183" y="81" width="1" height="14" fill="#7aaf7a"/>
<rect x="183" y="95" width="1" height="14" fill="#78b078"/>
<rect x="183" y="109" width="1" height="14" fill="#78b078"/>
<rect x="183" y="123" width="1" height="14" fill="#76b276"/>
<rect x="183" y="137" width="1" height="14" fill="#74b374"/>
<rect x="183" y="151" width="1" height="14" fill="#7fab7f"/>
<rect x="183" y="165" width="1" height="14" fill="#7dad7d"/>
<rect x="183" y="179" width="1" height="14" fill="#7aaf7a"/>
<rect x="183" y="193" width="1" height="14" fill="#aa9292"/>
<rect x="183" y="207" width="1" height="14" fill="#b68d8d"/>
<rect x="183" y="221" width="1" height="14" fill="#be8989"/>
<rect x="183" y="235" width="1" height="14" fill="#be8989"/>
<rect x="183" y="249" width="1" height="14" fill="#be8989"/>
<rect x="183" y="263" width="1" height="14" fill="#a09696"/>
<rect x="183" y="277" width="1" height="14" fill="#c08989"/>
<rect x="183" y="291" width="1" height="14" fill="#be8989"/>
<rect x="183" y="305" width="1" height="14" fill="#ba8b8b"/>
<rect x="183" y="319" width="1" height="14" fill="#bd8a8a"/>
<rect x="183" y="333" width="1" height="14" fill="#b38e8e"/>
<rect x="183" y="347" width="1" height="14" fill="#ba8b8b"/>
<rect x="183" y="361" width="1" height="14" fill="#ba8b8b"/>
<rect x="183" y="375" width="1" height="14" fill="#b98b8b"/>
<rect x="183" y="389" width="1" height="14" fill="#b58d8d"/>
<rect x="183" y="403" width="1" height="14" fill="#b68d8d"/>
<rect x="183" y="417" width="1" height="14" fill="#b68c8c"/>
<rect x="183" y="431" width="1" height="14" fill="#b78c8c"/>
<rect x="183" y="445" width="1" height="14" fill="#b88c8c"/>
<rect x="183" y="459" width="1" height="14" fill="#ba8b8b"/>
<rect x="183" y="473" width="1" height="14" fill="#c18888"/>
<rect x="183" y="487" width="1" height="14" fill="#bf8989"/>
<rect x="183" y="501" width="1" height="14" fill="#c08989"/>
<rect x="183" y="515" width="1" height="14" fill="#c08888"/>
<rect x="183" y="529" width="1" height="14" fill="#c08888"/>
<rect x="183" y="543" width="1" height="14" fill="#b68c8c"/>
<rect x="183" y="557" width="1" height="14" fill="#c38787"/>
<rect x="183" y="571" width="1" height="14" fill="#c48787"/>
<rect x="183" y="585" width="1" height="14" fill="#bf8989"/>
<rect x="183" y="599" width="1" height="14" fill="#bd8a8a"/>
<rect x="228" y="25" width="1" height="14" fill="#84a97d"/>
<rect x="228" y="39" width="1" height="14" fill="#949d90"/>
<rect x="228" y="53" width="1" height="14" fill="#8fa381"/>
<rect x="228" y="67" width="1" height="14" fill="#959f84"/>
<rect x="228" y="81" width="1" height="14" fill="#949f85"/>
<rect x="228" y="95" width="1" height="14" fill="#979e86"/>
<rect x="228" y="109" width="1" height="14" fill="#959f85"/>
<rect x="228" y="123" width="1" height="14" fill="#8fa285"/>
<rect x="228" y="137" width="1" height="14" fill="#90a285"/>
<rect x="228" y="151" width="1" height="14" fill="#999c8b"/>
<rect x="228" y="165" width="1" height="14" fill="#999d84"/>
<rect x="228" y="179" width="1" height="14" fill="#9a9d84"/>
<rect x="228" y="193" width="1" height="14" fill="#a19696"/>
<rect x="228" y="207" width="1" height="14" fill="#9b9c87"/>
<rect x="228" y="221" width="1" height="14" fill="#9f9a87"/>
<rect x="228" y="235" width="1" height="14" fill="#9d9b84"/>
<rect x="228" y="249" width="1" height="14" fill="#a19985"/>
<rect x="228" y="263" width="1" height="14" fill="#ac9191"/>
<rect x="228" y="277" width="1" height="14" fill="#ac9191"/>
<rect x="228" y="291" width="1" height="14" fill="#b08f8f"/>
<rect x="228" y="305" width="1" height="14" fill="#ab9191"/>
<rect x="228" y="319" width="1" height="14" fill="#a99292"/>
<rect x="228" y="333" width="1" height="14" fill="#ad9191"/>
<rect x="228" y="347" width="1" height="14" fill="#b58d8d"/>
<rect x="228" y="361" width="1" height="14" fill="#ae9090"/>
<rect x="228" y="375" width="1" height="14" fill="#b38e8e"/>
<rect x="228" y="389" width="1" height="14" fill="#b38e8e"/>
<rect x="228" y="403" width="1" height="14" fill="#b28f8f"/>
<rect x="228" y="417" width="1" height="14" fill="#b58d8d"/>
<rect x="228" y="431" width="1" height="14" fill="#b88c8c"/>
<rect x="228" y="445" width="1" height="14" fill="#9a9c86"/>
<rect x="228" y="459" width="1" height="14" fill="#ab9191"/>
<rect x="228" y="473" width="1" height="14" fill="#ae9090"/>
<rect x="228" y="487" width="1" height="14" fill="#a9938f"/>
<rect x="228" y="501" width="1" height="14" fill="#b08f8f"/>
<rect x="228" y="515" width="1" height="14" fill="#aa9291"/>
<rect x="228" y="529" width="1" height="14" fill="#a79589"/>
<rect x="228" y="543" width="1" height="14" fill="#a89393"/>
<rect x="228" y="557" width="1" height="14" fill="#a79589"/>
<rect x="228" y="571" width="1" height="14" fill="#a59786"/>
<rect x="228" y="585" width="1" height="14" fill="#ba8b8b"/>
<rect x="228" y="599" width="1" height="14" fill="#ab928d"/>
<rect x="274" y="25" width="1" height="14" fill="#a39595"/>
<rect x="274" y="39" width="1" height="14" fill="#a59494"/>
<rect x="274" y="53" width="1" height="14" fill="#af9090"/>
<rect x="274" y="67" width="1" height="14" fill="#b08f8f"/>
<rect x="274" y="81" width="1" height="14" fill="#ae9090"/>
<rect x="274" y="95" width="1" height="14" fill="#af9090"/>
<rect x="274" y="109" width="1" height="14" fill="#ae9090"/>
<rect x="274" y="123" width="1" height="14" fill="#a89393"/>
<rect x="274" y="137" width="1" height="14" fill="#a89292"/>
<rect x="274" y="151" width="1" height="14" fill="#b08f8f"/>
<rect x="274" y="165" width="1" height="14" fill="#b58d8d"/>
<rect x="274" y="179" width="1" height="14" fill="#b78c8c"/>
<rect x="274" y="193" width="1" height="14" fill="#a29595"/>
<rect x="274" y="207" width="1" height="14" fill="#82a982"/>
<rect x="274" y="221" width="1" height="14" fill="#86a686"/>
<rect x="274" y="235" width="1" height="14" fill="#82a982"/>
<rect x="274" y="249" width="1" height="14" fill="#85a785"/>
<rect x="274" y="263" width="1" height="14" fill="#b98b8b"/>
<rect x="274" y="277" width="1" height="14" fill="#9e9797"/>
<rect x="274" y="291" width="1" height="14" fill="#a29595"/>
<rect x="274" y="305" width="1" height="14" fill="#9a9898"/>
<rect x="274" y="319" width="1" height="14" fill="#9b9898"/>
<rect x="274" y="333" width="1" height="14" fill="#a89292"/>
<rect x="274" y="347" width="1" height="14" fill="#ae9090"/>
<rect x="274" y="361" width="1" height="14" fill="#a79393"/>
<rect x="274" y="375" width="1" height="14" fill="#a69393"/>
<rect x="274" y="389" width="1" height="14" fill="#ae9090"/>
<rect x="274" y="403" width="1" height="14" fill="#ad9090"/>
<rect x="274" y="417" width="1" height="14" fill="#b08f8f"/>
<rect x="274" y="431" width="1" height="14" fill="#b38e8e"/>
<rect x="274" y="445" width="1" height="14" fill="#8ea18b"/>
<rect x="274" y="459" width="1" height="14" fill="#9b9898"/>
<rect x="274" y="473" width="1" height="14" fill="#989a97"/>
<rect x="274" y="487" width="1" height="14" fill="#969b96"/>
<rect x="274" y="501" width="1" height="14" fill="#9d9797"/>
<rect x="274" y="515" width="1" height="14" fill="#989a98"/>
<rect x="274" y="529" width="1" height="14" fill="#959d91"/>
<rect x="274" y="543" width="1" height="14" fill="#979b93"/>
<rect x="274" y="557" width="1" height="14" fill="#8ea18e"/>
<rect x="274" y="571" width="1" height="14" fill="#88a588"/>
<rect x="274" y="585" width="1" height="14" fill="#aa9292"/>
<rect x="274" y="599" width="1" height="14" fill="#919e91"/>
<rect x="320" y="25" width="1" height="14" fill="#a39595"/>
<rect x="320" y="39" width="1" height="14" fill="#a79393"/>
<rect x="320" y="53" width="1" height="14" fill="#aa9292"/>
<rect x="320" y="67" width="1" height="14" fill="#ae9090"/>
<rect x="320" y="81" width="1" height="14" fill="#ae9090"/>
<rect x="320" y="95" width="1" height="14" fill="#ae9090"/>
<rect x="320" y="109" width="1" height="14" fill="#ad9090"/>
<rect x="320" y="123" width="1" height="14" fill="#aa9292"/>
<rect x="320" y="137" width="1" height="14" fill="#aa9292"/>
<rect x="320" y="151" width="1" height="14" fill="#a99292"/>
<rect x="320" y="165" width="1" height="14" fill="#b18f8f"/>
<rect x="320" y="179" width="1" height="14" fill="#b38e8e"/>
<rect x="320" y="193" width="1" height="14" fill="#9b9995"/>
<rect x="320" y="207" width="1" height="14" fill="#87a687"/>
<rect x="320" y="221" width="1" height="14" fill="#89a589"/>
<rect x="320" y="235" width="1" height="14" fill="#89a489"/>
<rect x="320" y="249" width="1" height="14" fill="#8ba38b"/>
<rect x="320" y="263" width="1" height="14" fill="#b88c8c"/>
<rect x="320" y="277" width="1" height="14" fill="#a29595"/>
<rect x="320" y="291" width="1" height="14" fill="#9e9797"/>
<rect x="320" y="305" width="1" height="14" fill="#a29595"/>
<rect x="320" y="319" width="1" height="14" fill="#9d9797"/>
<rect x="320" y="333" width="1" height="14" fill="#b28e8e"/>
<rect x="320" y="347" width="1" height="14" fill="#ab9191"/>
<rect x="320" y="361" width="1" height="14" fill="#a89292"/>
<rect x="320" y="375" width="1" height="14" fill="#a89393"/>
<rect x="320" y="389" width="1" height="14" fill="#ae9090"/>
<rect x="320" y="403" width="1" height="14" fill="#af9090"/>
<rect x="320" y="417" width="1" height="14" fill="#aa9292"/>
<rect x="320" y="431" width="1" height="14" fill="#a89292"/>
<rect x="320" y="445" width="1" height="14" fill="#9c9898"/>
<rect x="320" y="459" width="1" height="14" fill="#959c93"/>
<rect x="320" y="473" width="1" height="14" fill="#8fa08f"/>
<rect x="320" y="487" width="1" height="14" fill="#929e92"/>
<rect x="320" y="501" width="1" height="14" fill="#979b96"/>
<rect x="320" y="515" width="1" height="14" fill="#9d9897"/>
<rect x="320" y="529" width="1" height="14" fill="#a09696"/>
<rect x="320" y="543" width="1" height="14" fill="#919f91"/>
<rect x="320" y="557" width="1" height="14" fill="#949c94"/>
<rect x="320" y="571" width="1" height="14" fill="#8da18d"/>
<rect x="320" y="585" width="1" height="14" fill="#9b9994"/>
<rect x="320" y="599" width="1" height="14" fill="#999a93"/>
<rect x="365" y="25" width="1" height="14" fill="#ad9191"/>
<rect x="365" y="39" width="1" height="14" fill="#a69393"/>
<rect x="365" y="53" width="1" height="14" fill="#9e9797"/>
<rect x="365" y="67" width="1" height="14" fill="#a99292"/>
<rect x="365" y="81" width="1" height="14" fill="#ac9191"/>
<rect x="365" y="95" width="1" height="14" fill="#ab9191"/>
<rect x="365" y="109" width="1" height="14" fill="#a89393"/>
<rect x="365" y="123" width="1" height="14" fill="#a69393"/>
<rect x="365" y="137" width="1" height="14" fill="#a89292"/>
<rect x="365" y="151" width="1" height="14" fill="#ad9090"/>
<rect x="365" y="165" width="1" height="14" fill="#ae9090"/>
<rect x="365" y="179" width="1" height="14" fill="#ab9191"/>
<rect x="365" y="193" width="1" height="14" fill="#7dad7d"/>
<rect x="365" y="207" width="1" height="14" fill="#84a784"/>
<rect x="365" y="221" width="1" height="14" fill="#8ba38b"/>
<rect x="365" y="235" width="1" height="14" fill="#8aa38a"/>
<rect x="365" y="249" width="1" height="14" fill="#89a589"/>
<rect x="365" y="263" width="1" height="14" fill="#a1978d"/>
<rect x="365" y="277" width="1" height="14" fill="#91a08c"/>
<rect x="365" y="291" width="1" height="14" fill="#969c95"/>
<rect x="365" y="305" width="1" height="14" fill="#999b8f"/>
<rect x="365" y="319" width="1" height="14" fill="#959d91"/>
<rect x="365" y="333" width="1" height="14" fill="#9a9c85"/>
<rect x="365" y="347" width="1" height="14" fill="#949f89"/>
<rect x="365" y="361" width="1" height="14" fill="#91a089"/>
<rect x="365" y="375" width="1" height="14" fill="#9f9891"/>
<rect x="365" y="389" width="1" height="14" fill="#9a9c8a"/>
<rect x="365" y="403" width="1" height="14" fill="#999c88"/>
<rect x="365" y="417" width="1" height="14" fill="#989c8e"/>
<rect x="365" y="431" width="1" height="14" fill="#929f8b"/>
<rect x="365" y="445" width="1" height="14" fill="#989a97"/>
<rect x="365" y="459" width="1" height="14" fill="#87a687"/>
<rect x="365" y="473" width="1" height="14" fill="#87a687"/>
<rect x="365" y="487" width="1" height="14" fill="#88a588"/>
<rect x="365" y="501" width="1" height="14" fill="#8ea18e"/>
<rect x="365" y="515" width="1" height="14" fill="#939e8d"/>
<rect x="365" y="529" width="1" height="14" fill="#919f8b"/>
<rect x="365" y="543" width="1" height="14" fill="#8ba38b"/>
<rect x="365" y="557" width="1" height="14" fill="#8fa08f"/>
<rect x="365" y="571" width="1" height="14" fill="#8ca28c"/>
<rect x="365" y="585" width="1" height="14" fill="#959c95"/>
<rect x="365" y="599" width="1" height="14" fill="#9b9995"/>
<rect x="411" y="25" width="1" height="14" fill="#b18f8f"/>
<rect x="411" y="39" width="1" height="14" fill="#a69393"/>
<rect x="411" y="53" width="1" height="14" fill="#a39595"/>
<rect x="411" y="67" width="1" height="14" fill="#a79393"/>
<rect x="411" y="81" width="1" height="14" fill="#ac9191"/>
<rect x="411" y="95" width="1" height="14" fill="#a69393"/>
<rect x="411" y="109" width="1" height="14" fill="#a59494"/>
<rect x="411" y="123" width="1" height="14" fill="#a59494"/>
<rect x="411" y="137" width="1" height="14" fill="#a89292"/>
<rect x="411" y="151" width="1" height="14" fill="#b88c8c"/>
<rect x="411" y="165" width="1" height="14" fill="#ac9191"/>
<rect x="411" y="179" width="1" height="14" fill="#a69494"/>
<rect x="411" y="193" width="1" height="14" fill="#79b079"/>
<rect x="411" y="207" width="1" height="14" fill="#7fab7f"/>
<rect x="411" y="221" width="1" height="14" fill="#89a489"/>
<rect x="411" y="235" width="1" height="14" fill="#87a687"/>
<rect x="411" y="249" width="1" height="14" fill="#86a686"/>
<rect x="411" y="263" width="1" height="14" fill="#90a090"/>
<rect x="411" y="277" width="1" height="14" fill="#83a883"/>
<rect x="411" y="291" width="1" height="14" fill="#90a090"/>
<rect x="411" y="305" width="1" height="14" fill="#8ca28c"/>
<rect x="411" y="319" width="1" height="14" fill="#8ba38b"/>
<rect x="411" y="333" width="1" height="14" fill="#88a588"/>
<rect x="411" y="347" width="1" height="14" fill="#7fab7f"/>
<rect x="411" y="361" width="1" height="14" fill="#82a982"/>
<rect x="411" y="375" width="1" height="14" fill="#88a588"/>
<rect x="411" y="389" width="1" height="14" fill="#88a588"/>
<rect x="411" y="403" width="1" height="14" fill="#83a883"/>
<rect x="411" y="417" width="1" height="14" fill="#87a687"/>
<rect x="411" y="431" width="1" height="14" fill="#83a983"/>
<rect x="411" y="445" width="1" height="14" fill="#939d93"/>
<rect x="411" y="459" width="1" height="14" fill="#82a982"/>
<rect x="411" y="473" width="1" height="14" fill="#8aa38a"/>
<rect x="411" y="487" width="1" height="14" fill="#8aa38a"/>
<rect x="411" y="501" width="1" height="14" fill="#86a686"/>
<rect x="411" y="515" width="1" height="14" fill="#83a983"/>
<rect x="411" y="529" width="1" height="14" fill="#81aa81"/>
<rect x="411" y="543" width="1" height="14" fill="#84a884"/>
<rect x="411" y="557" width="1" height="14" fill="#89a589"/>
<rect x="411" y="571" width="1" height="14" fill="#89a489"/>
<rect x="411" y="585" width="1" height="14" fill="#919e91"/>
<rect x="411" y="599" width="1" height="14" fill="#9b9995"/>
<rect x="456" y="25" width="1" height="14" fill="#ac9191"/>
<rect x="456" y="39" width="1" height="14" fill="#aa9292"/>
<rect x="456" y="53" width="1" height="14" fill="#ad9191"/>
<rect x="456" y="67" width="1" height="14" fill="#aa9292"/>
<rect x="456" y="81" width="1" height="14" fill="#ab9191"/>
<rect x="456" y="95" width="1" height="14" fill="#a89393"/>
<rect x="456" y="109" width="1" height="14" fill="#a79393"/>
<rect x="456" y="123" width="1" height="14" fill="#aa9292"/>
<rect x="456" y="137" width="1" height="14" fill="#ad9090"/>
<rect x="456" y="151" width="1" height="14" fill="#ae9090"/>
<rect x="456" y="165" width="1" height="14" fill="#a89393"/>
<rect x="456" y="179" width="1" height="14" fill="#a39595"/>
<rect x="456" y="193" width="1" height="14" fill="#8ba38b"/>
<rect x="456" y="207" width="1" height="14" fill="#81aa81"/>
<rect x="456" y="221" width="1" height="14" fill="#85a785"/>
<rect x="456" y="235" width="1" height="14" fill="#8da28d"/>
<rect x="456" y="249" width="1" height="14" fill="#8ca28c"/>
<rect x="456" y="263" width="1" height="14" fill="#919e91"/>
<rect x="456" y="277" width="1" height="14" fill="#87a687"/>
<rect x="456" y="291" width="1" height="14" fill="#8ca28c"/>
<rect x="456" y="305" width="1" height="14" fill="#919e91"/>
<rect x="456" y="319" width="1" height="14" fill="#8fa08f"/>
<rect x="456" y="333" width="1" height="14" fill="#8ca28c"/>
<rect x="456" y="347" width="1" height="14" fill="#89a589"/>
<rect x="456" y="361" width="1" height="14" fill="#8ea08e"/>
<rect x="456" y="375" width="1" height="14" fill="#83a983"/>
<rect x="456" y="389" width="1" height="14" fill="#8ea18e"/>
<rect x="456" y="403" width="1" height="14" fill="#8ba38b"/>
<rect x="456" y="417" width="1" height="14" fill="#84a784"/>
<rect x="456" y="431" width="1" height="14" fill="#89a589"/>
<rect x="456" y="445" width="1" height="14" fill="#929e92"/>
<rect x="456" y="459" width="1" height="14" fill="#86a686"/>
<rect x="456" y="473" width="1" height="14" fill="#8aa38a"/>
<rect x="456" y="487" width="1" height="14" fill="#8aa38a"/>
<rect x="456" y="501" width="1" height="14" fill="#84a884"/>
<rect x="456" y="515" width="1" height="14" fill="#84a884"/>
<rect x="456" y="529" width="1" height="14" fill="#82a982"/>
<rect x="456" y="543" width="1" height="14" fill="#8ba38b"/>
<rect x="456" y="557" width="1" height="14" fill="#8ca28c"/>
<rect x="456" y="571" width="1" height="14" fill="#8ea18e"/>
<rect x="456" y="585" width="1" height="14" fill="#81aa81"/>
<rect x="456" y="599" width="1" height="14" fill="#8fa18a"/>
<rect x="502" y="25" width="1" height="14" fill="#a09792"/>
<rect x="502" y="39" width="1" height="14" fill="#ab9191"/>
<rect x="502" y="53" width="1" height="14" fill="#a69393"/>
<rect x="502" y="67" width="1" height="14" fill="#a59494"/>
<rect x="502" y="81" width="1" height="14" fill="#a49494"/>
<rect x="502" y="95" width="1" height="14" fill="#a59494"/>
<rect x="502" y="109" width="1" height="14" fill="#a39595"/>
<rect x="502" y="123" width="1" height="14" fill="#aa9292"/>
<rect x="502" y="137" width="1" height="14" fill="#a89292"/>
<rect x="502" y="151" width="1" height="14" fill="#9e9893"/>
<rect x="502" y="165" width="1" height="14" fill="#9b9992"/>
<rect x="502" y="179" width="1" height="14" fill="#9c9896"/>
<rect x="502" y="193" width="1" height="14" fill="#a1988a"/>
<rect x="502" y="207" width="1" height="14" fill="#9a9c8a"/>
<rect x="502" y="221" width="1" height="14" fill="#8da28d"/>
<rect x="502" y="235" width="1" height="14" fill="#979b96"/>
<rect x="502" y="249" width="1" height="14" fill="#939d93"/>
<rect x="502" y="263" width="1" height="14" fill="#85a785"/>
<rect x="502" y="277" width="1" height="14" fill="#84a884"/>
<rect x="502" y="291" width="1" height="14" fill="#84a884"/>
<rect x="502" y="305" width="1" height="14" fill="#8aa38a"/>
<rect x="502" y="319" width="1" height="14" fill="#8ca28c"/>
<rect x="502" y="333" width="1" height="14" fill="#80ab80"/>
<rect x="502" y="347" width="1" height="14" fill="#89a489"/>
<rect x="502" y="361" width="1" height="14" fill="#89a489"/>
<rect x="502" y="375" width="1" height="14" fill="#83a983"/>
<rect x="502" y="389" width="1" height="14" fill="#88a588"/>
<rect x="502" y="403" width="1" height="14" fill="#87a687"/>
<rect x="502" y="417" width="1" height="14" fill="#84a884"/>
<rect x="502" y="431" width="1" height="14" fill="#89a489"/>
<rect x="502" y="445" width="1" height="14" fill="#88a588"/>
<rect x="502" y="459" width="1" height="14" fill="#82a982"/>
<rect x="502" y="473" width="1" height="14" fill="#82a982"/>
<rect x="502" y="487" width="1" height="14" fill="#83a883"/>
<rect x="502" y="501" width="1" height="14" fill="#85a785"/>
<rect x="502" y="515" width="1" height="14" fill="#8ba38b"/>
<rect x="502" y="529" width="1" height="14" fill="#8fa08e"/>
<rect x="502" y="543" width="1" height="14" fill="#909f90"/>
<rect x="502" y="557" width="1" height="14" fill="#8ca28c"/>
<rect x="502" y="571" width="1" height="14" fill="#8ea18e"/>
<rect x="502" y="585" width="1" height="14" fill="#7fab7f"/>
<rect x="502" y="599" width="1" height="14" fill="#8ca28c"/>
<rect x="548" y="25" width="1" height="14" fill="#949d94"/>
<rect x="548" y="39" width="1" height="14" fill="#a89292"/>
<rect x="548" y="53" width="1" height="14" fill="#a49494"/>
<rect x="548" y="67" width="1" height="14" fill="#9d9797"/>
<rect x="548" y="81" width="1" height="14" fill="#9e9797"/>
<rect x="548" y="95" width="1" height="14" fill="#9f9696"/>
<rect x="548" y="109" width="1" height="14" fill="#a09696"/>
<rect x="548" y="123" width="1" height="14" fill="#a99292"/>
<rect x="548" y="137" width="1" height="14" fill="#a29595"/>
<rect x="548" y="151" width="1" height="14" fill="#919e91"/>
<rect x="548" y="165" width="1" height="14" fill="#909f90"/>
<rect x="548" y="179" width="1" height="14" fill="#979b97"/>
<rect x="548" y="193" width="1" height="14" fill="#b38e8e"/>
<rect x="548" y="207" width="1" height="14" fill="#ae9090"/>
<rect x="548" y="221" width="1" height="14" fill="#9e9894"/>
<rect x="548" y="235" width="1" height="14" fill="#9a9898"/>
<rect x="548" y="249" width="1" height="14" fill="#989a98"/>
<rect x="548" y="263" width="1" height="14" fill="#7dad7d"/>
<rect x="548" y="277" width="1" height="14" fill="#86a686"/>
<rect x="548" y="291" width="1" height="14" fill="#7dad7d"/>
<rect x="548" y="305" width="1" height="14" fill="#7fab7f"/>
<rect x="548" y="319" width="1" height="14" fill="#84a884"/>
<rect x="548" y="333" width="1" height="14" fill="#80aa80"/>
<rect x="548" y="347" width="1" height="14" fill="#7fab7f"/>
<rect x="548" y="361" width="1" height="14" fill="#7cae7c"/>
<rect x="548" y="375" width="1" height="14" fill="#7eac7e"/>
<rect x="548" y="389" width="1" height="14" fill="#7dad7d"/>
<rect x="548" y="403" width="1" height="14" fill="#7eac7e"/>
<rect x="548" y="417" width="1" height="14" fill="#81aa81"/>
<rect x="548" y="431" width="1" height="14" fill="#81aa81"/>
<rect x="548" y="445" width="1" height="14" fill="#7dad7d"/>
<rect x="548" y="459" width="1" height="14" fill="#91a088"/>
<rect x="548" y="473" width="1" height="14" fill="#86a686"/>
<rect x="548" y="487" width="1" height="14" fill="#83a983"/>
<rect x="548" y="501" width="1" height="14" fill="#85a785"/>
<rect x="548" y="515" width="1" height="14" fill="#8ca28c"/>
<rect x="548" y="529" width="1" height="14" fill="#979b96"/>
<rect x="548" y="543" width="1" height="14" fill="#929e92"/>
<rect x="548" y="557" width="1" height="14" fill="#89a589"/>
<rect x="548" y="571" width="1" height="14" fill="#8ea18e"/>
<rect x="548" y="585" width="1" height="14" fill="#85a785"/>
<rect x="548" y="599" width="1" height="14" fill="#8ca28c"/>
<rect x="593" y="25" width="1" height="14" fill="#9e9794"/>
<rect x="593" y="39" width="1" height="14" fill="#a89292"/>
<rect x="593" y="53" width="1" height="14" fill="#a69393"/>
<rect x="593" y="67" width="1" height="14" fill="#9d9797"/>
<rect x="593" y="81" width="1" height="14" fill="#9d9797"/>
<rect x="593" y="95" width="1" height="14" fill="#9f9797"/>
<rect x="593" y="109" width="1" height="14" fill="#9f9797"/>
<rect x="593" y="123" width="1" height="14" fill="#aa9292"/>
<rect x="593" y="137" width="1" height="14" fill="#a09696"/>
<rect x="593" y="151" width="1" height="14" fill="#90a090"/>
<rect x="593" y="165" width="1" height="14" fill="#919f91"/>
<rect x="593" y="179" width="1" height="14" fill="#979b97"/>
<rect x="593" y="193" width="1" height="14" fill="#a89292"/>
<rect x="593" y="207" width="1" height="14" fill="#ab9191"/>
<rect x="593" y="221" width="1" height="14" fill="#a49494"/>
<rect x="593" y="235" width="1" height="14" fill="#9a9898"/>
<rect x="593" y="249" width="1" height="14" fill="#969b96"/>
<rect x="593" y="263" width="1" height="14" fill="#7fab7f"/>
<rect x="593" y="277" width="1" height="14" fill="#88a588"/>
<rect x="593" y="291" width="1" height="14" fill="#7eac7e"/>
<rect x="593" y="305" width="1" height="14" fill="#7cad7c"/>
<rect x="593" y="319" width="1" height="14" fill="#7fab7f"/>
<rect x="593" y="333" width="1" height="14" fill="#8ba38b"/>
<rect x="593" y="347" width="1" height="14" fill="#88a588"/>
<rect x="593" y="361" width="1" height="14" fill="#88a588"/>
<rect x="593" y="375" width="1" height="14" fill="#84a784"/>
<rect x="593" y="389" width="1" height="14" fill="#7eac7e"/>
<rect x="593" y="403" width="1" height="14" fill="#7fab7f"/>
<rect x="593" y="417" width="1" height="14" fill="#83a883"/>
<rect x="593" y="431" width="1" height="14" fill="#82a982"/>
<rect x="593" y="445" width="1" height="14" fill="#979e86"/>
<rect x="593" y="459" width="1" height="14" fill="#9a9a90"/>
<rect x="593" y="473" width="1" height="14" fill="#909f90"/>
<rect x="593" y="487" width="1" height="14" fill="#88a588"/>
<rect x="593" y="501" width="1" height="14" fill="#83a983"/>
<rect x="593" y="515" width="1" height="14" fill="#8da18d"/>
<rect x="593" y="529" width="1" height="14" fill="#8fa08f"/>
<rect x="593" y="543" width="1" height="14" fill="#8da28d"/>
<rect x="593" y="557" width="1" height="14" fill="#89a589"/>
<rect x="593" y="571" width="1" height="14" fill="#8fa08f"/>
<rect x="593" y="585" width="1" height="14" fill="#87a687"/>
<rect x="593" y="599" width="1" height="14" fill="#7eac7e"/>
<rect x="639" y="25" width="1" height="14" fill="#d0caca"/>
<rect x="639" y="39" width="1" height="14" fill="#d0caca"/>
<rect x="639" y="53" width="1" height="14" fill="#cfcbcb"/>
<rect x="639" y="67" width="1" height="14" fill="#cecccc"/>
<rect x="639" y="81" width="1" height="14" fill="#cccccc"/>
<rect x="639" y="95" width="1" height="14" fill="#cecccc"/>
<rect x="639" y="109" width="1" height="14" fill="#cdcccc"/>
<rect x="639" y="123" width="1" height="14" fill="#d0caca"/>
<rect x="639" y="137" width="1" height="14" fill="#cecccc"/>
<rect x="639" y="151" width="1" height="14" fill="#caceca"/>
<rect x="639" y="165" width="1" height="14" fill="#caceca"/>
<rect x="639" y="179" width="1" height="14" fill="#cccccc"/>
<rect x="639" y="193" width="1" height="14" fill="#cfcbcb"/>
<rect x="639" y="207" width="1" height="14" fill="#d0caca"/>
<rect x="639" y="221" width="1" height="14" fill="#cecbcb"/>
<rect x="639" y="235" width="1" height="14" fill="#cccccc"/>
<rect x="639" y="249" width="1" height="14" fill="#cbcccb"/>
<rect x="639" y="263" width="1" height="14" fill="#c6d0c6"/>
<rect x="639" y="277" width="1" height="14" fill="#c6d0c6"/>
<rect x="639" y="291" width="1" height="14" fill="#c6d0c6"/>
<rect x="639" y="305" width="1" height="14" fill="#c4d2c4"/>
<rect x="639" y="319" width="1" height="14" fill="#c4d2c4"/>
<rect x="639" y="333" width="1" height="14" fill="#caceca"/>
<rect x="639" y="347" width="1" height="14" fill="#caceca"/>
<rect x="639" y="361" width="1" height="14" fill="#caceca"/>
<rect x="639" y="375" width="1" height="14" fill="#c8cec8"/>
<rect x="639" y="389" width="1" height="14" fill="#c6d0c6"/>
<rect x="639" y="403" width="1" height="14" fill="#c6d0c6"/>
<rect x="639" y="417" width="1" height="14" fill="#c8d0c8"/>
<rect x="639" y="431" width="1" height="14" fill="#c8cfc8"/>
<rect x="639" y="445" width="1" height="14" fill="#d2caca"/>
<rect x="639" y="459" width="1" height="14" fill="#c9cec9"/>
<rect x="639" y="473" width="1" height="14" fill="#cacdca"/>
<rect x="639" y="487" width="1" height="14" fill="#c9cec9"/>
<rect x="639" y="501" width="1" height="14" fill="#c6d0c6"/>
<rect x="639" y="515" width="1" height="14" fill="#caceca"/>
<rect x="639" y="529" width="1" height="14" fill="#c8cec8"/>
<rect x="639" y="543" width="1" height="14" fill="#c7d0c7"/>
<rect x="639" y="557" width="1" height="14" fill="#c8cec8"/>
<rect x="639" y="571" width="1" height="14" fill="#c9cec9"/>
<rect x="639" y="585" width="1" height="14" fill="#c8cfc8"/>
<rect x="639" y="599" width="1" height="14" fill="#c5d1c5"/>
<rect x="92" y="25" width="45" height="1" fill="#c9cec9"/>
<rect x="137" y="25" width="46" height="1" fill="#cacdca"/>
<rect x="183" y="25" width="45" height="1" fill="#bfd5bf"/>
<rect x="228" y="25" width="46" height="1" fill="#cecbcb"/>
<rect x="274" y="25" width="46" height="1" fill="#cfcbcb"/>
<rect x="320" y="25" width="45" height="1" fill="#cecbcb"/>
<rect x="365" y="25" width="46" height="1" fill="#d4c9c9"/>
<rect x="411" y="25" width="45" height="1" fill="#d0caca"/>
<rect x="456" y="25" width="46" height="1" fill="#d1caca"/>
<rect x="502" y="25" width="46" height="1" fill="#cacdca"/>
<rect x="548" y="25" width="45" height="1" fill="#cbcdcb"/>
<rect x="593" y="25" width="47" height="1" fill="#d0caca"/>
<rect x="92" y="39" width="45" height="1" fill="#7fab7f"/>
<rect x="137" y="39" width="46" height="1" fill="#82a982"/>
<rect x="183" y="39" width="45" height="1" fill="#77b177"/>
<rect x="228" y="39" width="46" height="1" fill="#a19696"/>
<rect x="274" y="39" width="46" height="1" fill="#a79393"/>
<rect x="320" y="39" width="45" height="1" fill="#a39595"/>
<rect x="365" y="39" width="46" height="1" fill="#b08f8f"/>
<rect x="411" y="39" width="45" height="1" fill="#a89393"/>
<rect x="456" y="39" width="46" height="1" fill="#ae9090"/>
<rect x="502" y="39" width="46" height="1" fill="#9d9893"/>
<rect x="548" y="39" width="45" height="1" fill="#9f9793"/>
<rect x="593" y="39" width="47" height="1" fill="#a89393"/>
<rect x="92" y="53" width="45" height="1" fill="#75b275"/>
<rect x="137" y="53" width="46" height="1" fill="#79af79"/>
<rect x="183" y="53" width="45" height="1" fill="#7eac7e"/>
<rect x="228" y="53" width="46" height="1" fill="#a69494"/>
<rect x="274" y="53" width="46" height="1" fill="#ae9090"/>
<rect x="320" y="53" width="45" height="1" fill="#a39595"/>
<rect x="365" y="53" width="46" height="1" fill="#a29595"/>
<rect x="411" y="53" width="45" height="1" fill="#a89393"/>
<rect x="456" y="53" width="46" height="1" fill="#ae9090"/>
<rect x="502" y="53" width="46" height="1" fill="#a39595"/>
<rect x="548" y="53" width="45" height="1" fill="#a99292"/>
<rect x="593" y="53" width="47" height="1" fill="#a69494"/>
<rect x="92" y="67" width="45" height="1" fill="#78b078"/>
<rect x="137" y="67" width="46" height="1" fill="#7dad7d"/>
<rect x="183" y="67" width="45" height="1" fill="#76b276"/>
<rect x="228" y="67" width="46" height="1" fill="#af9090"/>
<rect x="274" y="67" width="46" height="1" fill="#b08f8f"/>
<rect x="320" y="67" width="45" height="1" fill="#a79393"/>
<rect x="365" y="67" width="46" height="1" fill="#a09696"/>
<rect x="411" y="67" width="45" height="1" fill="#aa9292"/>
<rect x="456" y="67" width="46" height="1" fill="#ad9191"/>
<rect x="502" y="67" width="46" height="1" fill="#9f9797"/>
<rect x="548" y="67" width="45" height="1" fill="#a29595"/>
<rect x="593" y="67" width="47" height="1" fill="#a29595"/>
<rect x="92" y="81" width="45" height="1" fill="#77b177"/>
<rect x="137" y="81" width="46" height="1" fill="#7aaf7a"/>
<rect x="183" y="81" width="45" height="1" fill="#7aaf7a"/>
<rect x="228" y="81" width="46" height="1" fill="#b08f8f"/>
<rect x="274" y="81" width="46" height="1" fill="#af9090"/>
<rect x="320" y="81" width="45" height="1" fill="#ad9090"/>
<rect x="365" y="81" width="46" height="1" fill="#a89393"/>
<rect x="411" y="81" width="45" height="1" fill="#ab9191"/>
<rect x="456" y="81" width="46" height="1" fill="#aa9292"/>
<rect x="502" y="81" width="46" height="1" fill="#9e9797"/>
<rect x="548" y="81" width="45" height="1" fill="#9c9898"/>
<rect x="593" y="81" width="47" height="1" fill="#9e9797"/>
<rect x="92" y="95" width="45" height="1" fill="#79af79"/>
<rect x="137" y="95" width="46" height="1" fill="#76b276"/>
<rect x="183" y="95" width="45" height="1" fill="#7cae7c"/>
<rect x="228" y="95" width="46" height="1" fill="#af9090"/>
<rect x="274" y="95" width="46" height="1" fill="#ae9090"/>
<rect x="320" y="95" width="45" height="1" fill="#ae9090"/>
<rect x="365" y="95" width="46" height="1" fill="#a89292"/>
<rect x="411" y="95" width="45" height="1" fill="#aa9292"/>
<rect x="456" y="95" width="46" height="1" fill="#a99292"/>
<rect x="502" y="95" width="46" height="1" fill="#9f9696"/>
<rect x="548" y="95" width="45" height="1" fill="#9e9797"/>
<rect x="593" y="95" width="47" height="1" fill="#9e9797"/>
<rect x="92" y="109" width="45" height="1" fill="#7bae7b"/>
<rect x="137" y="109" width="46" height="1" fill="#74b374"/>
<rect x="183" y="109" width="45" height="1" fill="#7cae7c"/>
<rect x="228" y="109" width="46" height="1" fill="#b08f8f"/>
<rect x="274" y="109" width="46" height="1" fill="#ae9090"/>
<rect x="320" y="109" width="45" height="1" fill="#ae9090"/>
<rect x="365" y="109" width="46" height="1" fill="#a59494"/>
<rect x="411" y="109" width="45" height="1" fill="#a79393"/>
<rect x="456" y="109" width="46" height="1" fill="#a89393"/>
<rect x="502" y="109" width="46" height="1" fill="#a09696"/>
<rect x="548" y="109" width="45" height="1" fill="#9f9797"/>
<rect x="593" y="109" width="47" height="1" fill="#9f9797"/>
<rect x="92" y="123" width="45" height="1" fill="#7aaf7a"/>
<rect x="137" y="123" width="46" height="1" fill="#75b275"/>
<rect x="183" y="123" width="45" height="1" fill="#79b079"/>
<rect x="228" y="123" width="46" height="1" fill="#ab9191"/>
<rect x="274" y="123" width="46" height="1" fill="#ab9191"/>
<rect x="320" y="123" width="45" height="1" fill="#ac9191"/>
<rect x="365" y="123" width="46" height="1" fill="#a29595"/>
<rect x="411" y="123" width="45" height="1" fill="#a89292"/>
<rect x="456" y="123" width="46" height="1" fill="#a99292"/>
<rect x="502" y="123" width="46" height="1" fill="#a59494"/>
<rect x="548" y="123" width="45" height="1" fill="#a49494"/>
<rect x="593" y="123" width="47" height="1" fill="#a49494"/>
<rect x="92" y="137" width="45" height="1" fill="#7dad7d"/>
<rect x="137" y="137" width="46" height="1" fill="#73b473"/>
<rect x="183" y="137" width="45" height="1" fill="#77b177"/>
<rect x="228" y="137" width="46" height="1" fill="#a89292"/>
<rect x="274" y="137" width="46" height="1" fill="#a89393"/>
<rect x="320" y="137" width="45" height="1" fill="#ab9191"/>
<rect x="365" y="137" width="46" height="1" fill="#a39595"/>
<rect x="411" y="137" width="45" height="1" fill="#aa9292"/>
<rect x="456" y="137" width="46" height="1" fill="#ad9090"/>
<rect x="502" y="137" width="46" height="1" fill="#a59494"/>
<rect x="548" y="137" width="45" height="1" fill="#a59494"/>
<rect x="593" y="137" width="47" height="1" fill="#a59494"/>
<rect x="92" y="151" width="45" height="1" fill="#7dad7d"/>
<rect x="137" y="151" width="46" height="1" fill="#75b275"/>
<rect x="183" y="151" width="45" height="1" fill="#7eac7e"/>
<rect x="228" y="151" width="46" height="1" fill="#ab9191"/>
<rect x="274" y="151" width="46" height="1" fill="#ad9090"/>
<rect x="320" y="151" width="45" height="1" fill="#a59494"/>
<rect x="365" y="151" width="46" height="1" fill="#b08f8f"/>
<rect x="411" y="151" width="45" height="1" fill="#b08f8f"/>
<rect x="456" y="151" width="46" height="1" fill="#ab9191"/>
<rect x="502" y="151" width="46" height="1" fill="#9b9995"/>
<rect x="548" y="151" width="45" height="1" fill="#989b92"/>
<rect x="593" y="151" width="47" height="1" fill="#989b94"/>
<rect x="92" y="165" width="45" height="1" fill="#7aaf7a"/>
<rect x="137" y="165" width="46" height="1" fill="#7cad7c"/>
<rect x="183" y="165" width="45" height="1" fill="#80aa80"/>
<rect x="228" y="165" width="46" height="1" fill="#b28f8f"/>
<rect x="274" y="165" width="46" height="1" fill="#b38e8e"/>
<rect x="320" y="165" width="45" height="1" fill="#a69393"/>
<rect x="365" y="165" width="46" height="1" fill="#b58d8d"/>
<rect x="411" y="165" width="45" height="1" fill="#af9090"/>
<rect x="456" y="165" width="46" height="1" fill="#a69393"/>
<rect x="502" y="165" width="46" height="1" fill="#929e92"/>
<rect x="548" y="165" width="45" height="1" fill="#8fa08f"/>
<rect x="593" y="165" width="47" height="1" fill="#919e91"/>
<rect x="92" y="179" width="45" height="1" fill="#7aaf7a"/>
<rect x="137" y="179" width="46" height="1" fill="#7bae7b"/>
<rect x="183" y="179" width="45" height="1" fill="#7cae7c"/>
<rect x="228" y="179" width="46" height="1" fill="#b78c8c"/>
<rect x="274" y="179" width="46" height="1" fill="#b58d8d"/>
<rect x="320" y="179" width="45" height="1" fill="#ae9090"/>
<rect x="365" y="179" width="46" height="1" fill="#aa9292"/>
<rect x="411" y="179" width="45" height="1" fill="#a89393"/>
<rect x="456" y="179" width="46" height="1" fill="#a39595"/>
<rect x="502" y="179" width="46" height="1" fill="#949d94"/>
<rect x="548" y="179" width="45" height="1" fill="#939d93"/>
<rect x="593" y="179" width="47" height="1" fill="#949c94"/>
<rect x="92" y="193" width="45" height="1" fill="#86a686"/>
<rect x="137" y="193" width="46" height="1" fill="#969f82"/>
<rect x="183" y="193" width="45" height="1" fill="#8ea289"/>
<rect x="228" y="193" width="46" height="1" fill="#ad9090"/>
<rect x="274" y="193" width="46" height="1" fill="#ab9191"/>
<rect x="320" y="193" width="45" height="1" fill="#a29692"/>
<rect x="365" y="193" width="46" height="1" fill="#86a97c"/>
<rect x="411" y="193" width="45" height="1" fill="#999b90"/>
<rect x="456" y="193" width="46" height="1" fill="#969d8f"/>
<rect x="502" y="193" width="46" height="1" fill="#a89391"/>
<rect x="548" y="193" width="45" height="1" fill="#a29694"/>
<rect x="593" y="193" width="47" height="1" fill="#9d9895"/>
<rect x="92" y="207" width="45" height="1" fill="#a4968f"/>
<rect x="137" y="207" width="46" height="1" fill="#b58d8d"/>
<rect x="183" y="207" width="45" height="1" fill="#aa9292"/>
<rect x="228" y="207" width="46" height="1" fill="#92a08b"/>
<rect x="274" y="207" width="46" height="1" fill="#929f8d"/>
<rect x="320" y="207" width="45" height="1" fill="#8fa08f"/>
<rect x="365" y="207" width="46" height="1" fill="#72b472"/>
<rect x="411" y="207" width="45" height="1" fill="#85a785"/>
<rect x="456" y="207" width="46" height="1" fill="#87a687"/>
<rect x="502" y="207" width="46" height="1" fill="#b48d8d"/>
<rect x="548" y="207" width="45" height="1" fill="#ad9090"/>
<rect x="593" y="207" width="47" height="1" fill="#a69393"/>
<rect x="92" y="221" width="45" height="1" fill="#b88c8c"/>
<rect x="137" y="221" width="46" height="1" fill="#bc8a8a"/>
<rect x="183" y="221" width="45" height="1" fill="#b88c8c"/>
<rect x="228" y="221" width="46" height="1" fill="#82a982"/>
<rect x="274" y="221" width="46" height="1" fill="#87a687"/>
<rect x="320" y="221" width="45" height="1" fill="#89a489"/>
<rect x="365" y="221" width="46" height="1" fill="#86a686"/>
<rect x="411" y="221" width="45" height="1" fill="#82a982"/>
<rect x="456" y="221" width="46" height="1" fill="#84a784"/>
<rect x="502" y="221" width="46" height="1" fill="#a29692"/>
<rect x="548" y="221" width="45" height="1" fill="#aa9292"/>
<rect x="593" y="221" width="47" height="1" fill="#a59494"/>
<rect x="92" y="235" width="45" height="1" fill="#bd8a8a"/>
<rect x="137" y="235" width="46" height="1" fill="#c18888"/>
<rect x="183" y="235" width="45" height="1" fill="#bb8b8b"/>
<rect x="228" y="235" width="46" height="1" fill="#81aa81"/>
<rect x="274" y="235" width="46" height="1" fill="#87a687"/>
<rect x="320" y="235" width="45" height="1" fill="#8ba38b"/>
<rect x="365" y="235" width="46" height="1" fill="#8aa38a"/>
<rect x="411" y="235" width="45" height="1" fill="#85a785"/>
<rect x="456" y="235" width="46" height="1" fill="#8ca28c"/>
<rect x="502" y="235" width="46" height="1" fill="#989a97"/>
<rect x="548" y="235" width="45" height="1" fill="#a09696"/>
<rect x="593" y="235" width="47" height="1" fill="#9e9797"/>
<rect x="92" y="249" width="45" height="1" fill="#c18888"/>
<rect x="137" y="249" width="46" height="1" fill="#bf8989"/>
<rect x="183" y="249" width="45" height="1" fill="#be8989"/>
<rect x="228" y="249" width="46" height="1" fill="#80ab80"/>
<rect x="274" y="249" width="46" height="1" fill="#87a687"/>
<rect x="320" y="249" width="45" height="1" fill="#8da18d"/>
<rect x="365" y="249" width="46" height="1" fill="#85a785"/>
<rect x="411" y="249" width="45" height="1" fill="#87a687"/>
<rect x="456" y="249" width="46" height="1" fill="#919e91"/>
<rect x="502" y="249" width="46" height="1" fill="#999998"/>
<rect x="548" y="249" width="45" height="1" fill="#999998"/>
<rect x="593" y="249" width="47" height="1" fill="#989a97"/>
<rect x="92" y="263" width="45" height="1" fill="#b68d8d"/>
<rect x="137" y="263" width="46" height="1" fill="#ad9090"/>
<rect x="183" y="263" width="45" height="1" fill="#b18f8f"/>
<rect x="228" y="263" width="46" height="1" fill="#9c9b87"/>
<rect x="274" y="263" width="46" height="1" fill="#a29789"/>
<rect x="320" y="263" width="45" height="1" fill="#a1978d"/>
<rect x="365" y="263" width="46" height="1" fill="#89a589"/>
<rect x="411" y="263" width="45" height="1" fill="#8da18d"/>
<rect x="456" y="263" width="46" height="1" fill="#90a090"/>
<rect x="502" y="263" width="46" height="1" fill="#89a489"/>
<rect x="548" y="263" width="45" height="1" fill="#8ca28c"/>
<rect x="593" y="263" width="47" height="1" fill="#8aa38a"/>
<rect x="92" y="277" width="45" height="1" fill="#b38e8e"/>
<rect x="137" y="277" width="46" height="1" fill="#af9090"/>
<rect x="183" y="277" width="45" height="1" fill="#b08f8f"/>
<rect x="228" y="277" width="46" height="1" fill="#a89393"/>
<rect x="274" y="277" width="46" height="1" fill="#af9090"/>
<rect x="320" y="277" width="45" height="1" fill="#ab9191"/>
<rect x="365" y="277" width="46" height="1" fill="#88a588"/>
<rect x="411" y="277" width="45" height="1" fill="#8ca28c"/>
<rect x="456" y="277" width="46" height="1" fill="#8ca28c"/>
<rect x="502" y="277" width="46" height="1" fill="#7dad7d"/>
<rect x="548" y="277" width="45" height="1" fill="#85a785"/>
<rect x="593" y="277" width="47" height="1" fill="#81aa81"/>
<rect x="92" y="291" width="45" height="1" fill="#bd8a8a"/>
<rect x="137" y="291" width="46" height="1" fill="#bf8989"/>
<rect x="183" y="291" width="45" height="1" fill="#bf8989"/>
<rect x="228" y="291" width="46" height="1" fill="#9d9797"/>
<rect x="274" y="291" width="46" height="1" fill="#a29595"/>
<rect x="320" y="291" width="45" height="1" fill="#9d9797"/>
<rect x="365" y="291" width="46" height="1" fill="#89a489"/>
<rect x="411" y="291" width="45" height="1" fill="#8aa38a"/>
<rect x="456" y="291" width="46" height="1" fill="#89a589"/>
<rect x="502" y="291" width="46" height="1" fill="#7fab7f"/>
<rect x="548" y="291" width="45" height="1" fill="#83a883"/>
<rect x="593" y="291" width="47" height="1" fill="#82a982"/>
<rect x="92" y="305" width="45" height="1" fill="#be8989"/>
<rect x="137" y="305" width="46" height="1" fill="#ba8b8b"/>
<rect x="183" y="305" width="45" height="1" fill="#be8989"/>
<rect x="228" y="305" width="46" height="1" fill="#9d9797"/>
<rect x="274" y="305" width="46" height="1" fill="#9f9797"/>
<rect x="320" y="305" width="45" height="1" fill="#a19696"/>
<rect x="365" y="305" width="46" height="1" fill="#8ea18e"/>
<rect x="411" y="305" width="45" height="1" fill="#8ea18e"/>
<rect x="456" y="305" width="46" height="1" fill="#8fa08f"/>
<rect x="502" y="305" width="46" height="1" fill="#7fab7f"/>
<rect x="548" y="305" width="45" height="1" fill="#7dad7d"/>
<rect x="593" y="305" width="47" height="1" fill="#7eac7e"/>
<rect x="92" y="319" width="45" height="1" fill="#bf8989"/>
<rect x="137" y="319" width="46" height="1" fill="#bb8a8a"/>
<rect x="183" y="319" width="45" height="1" fill="#bb8a8a"/>
<rect x="228" y="319" width="46" height="1" fill="#999999"/>
<rect x="274" y="319" width="46" height="1" fill="#9c9898"/>
<rect x="320" y="319" width="45" height="1" fill="#a39595"/>
<rect x="365" y="319" width="46" height="1" fill="#8ba38b"/>
<rect x="411" y="319" width="45" height="1" fill="#8ca28c"/>
<rect x="456" y="319" width="46" height="1" fill="#949c94"/>
<rect x="502" y="319" width="46" height="1" fill="#82a982"/>
<rect x="548" y="319" width="45" height="1" fill="#81aa81"/>
<rect x="593" y="319" width="47" height="1" fill="#7aaf7a"/>
<rect x="92" y="333" width="45" height="1" fill="#bb8b8b"/>
<rect x="137" y="333" width="46" height="1" fill="#b88c8c"/>
<rect x="183" y="333" width="45" height="1" fill="#b78c8c"/>
<rect x="228" y="333" width="46" height="1" fill="#9f9797"/>
<rect x="274" y="333" width="46" height="1" fill="#a59494"/>
<rect x="320" y="333" width="45" height="1" fill="#ab9191"/>
<rect x="365" y="333" width="46" height="1" fill="#84a784"/>
<rect x="411" y="333" width="45" height="1" fill="#8ea18e"/>
<rect x="456" y="333" width="46" height="1" fill="#8da28d"/>
<rect x="502" y="333" width="46" height="1" fill="#7fab7f"/>
<rect x="548" y="333" width="45" height="1" fill="#85a785"/>
<rect x="593" y="333" width="47" height="1" fill="#84a784"/>
<rect x="92" y="347" width="45" height="1" fill="#b58d8d"/>
<rect x="137" y="347" width="46" height="1" fill="#b48d8d"/>
<rect x="183" y="347" width="45" height="1" fill="#b88c8c"/>
<rect x="228" y="347" width="46" height="1" fill="#aa9292"/>
<rect x="274" y="347" width="46" height="1" fill="#ad9090"/>
<rect x="320" y="347" width="45" height="1" fill="#b08f8f"/>
<rect x="365" y="347" width="46" height="1" fill="#7eac7e"/>
<rect x="411" y="347" width="45" height="1" fill="#88a588"/>
<rect x="456" y="347" width="46" height="1" fill="#8ca28c"/>
<rect x="502" y="347" width="46" height="1" fill="#7dad7d"/>
<rect x="548" y="347" width="45" height="1" fill="#82a982"/>
<rect x="593" y="347" width="47" height="1" fill="#909f90"/>
<rect x="92" y="361" width="45" height="1" fill="#b38e8e"/>
<rect x="137" y="361" width="46" height="1" fill="#b88c8c"/>
<rect x="183" y="361" width="45" height="1" fill="#bb8a8a"/>
<rect x="228" y="361" width="46" height="1" fill="#a89292"/>
<rect x="274" y="361" width="46" height="1" fill="#ad9090"/>
<rect x="320" y="361" width="45" height="1" fill="#a69494"/>
<rect x="365" y="361" width="46" height="1" fill="#7fab7f"/>
<rect x="411" y="361" width="45" height="1" fill="#82a982"/>
<rect x="456" y="361" width="46" height="1" fill="#959c95"/>
<rect x="502" y="361" width="46" height="1" fill="#7dad7d"/>
<rect x="548" y="361" width="45" height="1" fill="#7eac7e"/>
<rect x="593" y="361" width="47" height="1" fill="#929e92"/>
<rect x="92" y="375" width="45" height="1" fill="#b68c8c"/>
<rect x="137" y="375" width="46" height="1" fill="#b68c8c"/>
<rect x="183" y="375" width="45" height="1" fill="#bc8a8a"/>
<rect x="228" y="375" width="46" height="1" fill="#a59494"/>
<rect x="274" y="375" width="46" height="1" fill="#a89292"/>
<rect x="320" y="375" width="45" height="1" fill="#a89393"/>
<rect x="365" y="375" width="46" height="1" fill="#88a588"/>
<rect x="411" y="375" width="45" height="1" fill="#82a982"/>
<rect x="456" y="375" width="46" height="1" fill="#8fa08f"/>
<rect x="502" y="375" width="46" height="1" fill="#7cad7c"/>
<rect x="548" y="375" width="45" height="1" fill="#7eac7e"/>
<rect x="593" y="375" width="47" height="1" fill="#8ea18e"/>
<rect x="92" y="389" width="45" height="1" fill="#b68c8c"/>
<rect x="137" y="389" width="46" height="1" fill="#b58d8d"/>
<rect x="183" y="389" width="45" height="1" fill="#ba8b8b"/>
<rect x="228" y="389" width="46" height="1" fill="#ac9191"/>
<rect x="274" y="389" width="46" height="1" fill="#a99292"/>
<rect x="320" y="389" width="45" height="1" fill="#ad9090"/>
<rect x="365" y="389" width="46" height="1" fill="#8ba38b"/>
<rect x="411" y="389" width="45" height="1" fill="#84a784"/>
<rect x="456" y="389" width="46" height="1" fill="#8da28d"/>
<rect x="502" y="389" width="46" height="1" fill="#7eac7e"/>
<rect x="548" y="389" width="45" height="1" fill="#7dad7d"/>
<rect x="593" y="389" width="47" height="1" fill="#85a785"/>
<rect x="92" y="403" width="45" height="1" fill="#b48d8d"/>
<rect x="137" y="403" width="46" height="1" fill="#b58d8d"/>
<rect x="183" y="403" width="45" height="1" fill="#b68c8c"/>
<rect x="228" y="403" width="46" height="1" fill="#ae9090"/>
<rect x="274" y="403" width="46" height="1" fill="#ae9090"/>
<rect x="320" y="403" width="45" height="1" fill="#b08f8f"/>
<rect x="365" y="403" width="46" height="1" fill="#83a983"/>
<rect x="411" y="403" width="45" height="1" fill="#88a588"/>
<rect x="456" y="403" width="46" height="1" fill="#919f91"/>
<rect x="502" y="403" width="46" height="1" fill="#7dad7d"/>
<rect x="548" y="403" width="45" height="1" fill="#7eac7e"/>
<rect x="593" y="403" width="47" height="1" fill="#7fab7f"/>
<rect x="92" y="417" width="45" height="1" fill="#b18f8f"/>
<rect x="137" y="417" width="46" height="1" fill="#b58d8d"/>
<rect x="183" y="417" width="45" height="1" fill="#b88c8c"/>
<rect x="228" y="417" width="46" height="1" fill="#af9090"/>
<rect x="274" y="417" width="46" height="1" fill="#ae9090"/>
<rect x="320" y="417" width="45" height="1" fill="#ab9191"/>
<rect x="365" y="417" width="46" height="1" fill="#85a785"/>
<rect x="411" y="417" width="45" height="1" fill="#84a784"/>
<rect x="456" y="417" width="46" height="1" fill="#8ba38b"/>
<rect x="502" y="417" width="46" height="1" fill="#80ab80"/>
<rect x="548" y="417" width="45" height="1" fill="#80ab80"/>
<rect x="593" y="417" width="47" height="1" fill="#82a982"/>
<rect x="92" y="431" width="45" height="1" fill="#ad9090"/>
<rect x="137" y="431" width="46" height="1" fill="#b58d8d"/>
<rect x="183" y="431" width="45" height="1" fill="#b88c8c"/>
<rect x="228" y="431" width="46" height="1" fill="#b58d8d"/>
<rect x="274" y="431" width="46" height="1" fill="#ae9090"/>
<rect x="320" y="431" width="45" height="1" fill="#a59494"/>
<rect x="365" y="431" width="46" height="1" fill="#85a785"/>
<rect x="411" y="431" width="45" height="1" fill="#84a884"/>
<rect x="456" y="431" width="46" height="1" fill="#89a489"/>
<rect x="502" y="431" width="46" height="1" fill="#84a884"/>
<rect x="548" y="431" width="45" height="1" fill="#7eac7e"/>
<rect x="593" y="431" width="47" height="1" fill="#88a588"/>
<rect x="92" y="445" width="45" height="1" fill="#b58d8d"/>
<rect x="137" y="445" width="46" height="1" fill="#b88c8c"/>
<rect x="183" y="445" width="45" height="1" fill="#b68c8c"/>
<rect x="228" y="445" width="46" height="1" fill="#9b9c85"/>
<rect x="274" y="445" width="46" height="1" fill="#a69494"/>
<rect x="320" y="445" width="45" height="1" fill="#9f9797"/>
<rect x="365" y="445" width="46" height="1" fill="#8ba38b"/>
<rect x="411" y="445" width="45" height="1" fill="#8ba38b"/>
<rect x="456" y="445" width="46" height="1" fill="#90a090"/>
<rect x="502" y="445" width="46" height="1" fill="#81aa81"/>
<rect x="548" y="445" width="45" height="1" fill="#7dad7d"/>
<rect x="593" y="445" width="47" height="1" fill="#9c9a8c"/>
<rect x="92" y="459" width="45" height="1" fill="#be8989"/>
<rect x="137" y="459" width="46" height="1" fill="#b98b8b"/>
<rect x="183" y="459" width="45" height="1" fill="#b88c8c"/>
<rect x="228" y="459" width="46" height="1" fill="#8ca28b"/>
<rect x="274" y="459" width="46" height="1" fill="#9d9797"/>
<rect x="320" y="459" width="45" height="1" fill="#949d93"/>
<rect x="365" y="459" width="46" height="1" fill="#8aa38a"/>
<rect x="411" y="459" width="45" height="1" fill="#8ba38b"/>
<rect x="456" y="459" width="46" height="1" fill="#8da18d"/>
<rect x="502" y="459" width="46" height="1" fill="#7cad7c"/>
<rect x="548" y="459" width="45" height="1" fill="#92a088"/>
<rect x="593" y="459" width="47" height="1" fill="#9e988e"/>
<rect x="92" y="473" width="45" height="1" fill="#be8989"/>
<rect x="137" y="473" width="46" height="1" fill="#bd8a8a"/>
<rect x="183" y="473" width="45" height="1" fill="#be8989"/>
<rect x="228" y="473" width="46" height="1" fill="#9a9898"/>
<rect x="274" y="473" width="46" height="1" fill="#999a96"/>
<rect x="320" y="473" width="45" height="1" fill="#8ba38b"/>
<rect x="365" y="473" width="46" height="1" fill="#82a982"/>
<rect x="411" y="473" width="45" height="1" fill="#8aa38a"/>
<rect x="456" y="473" width="46" height="1" fill="#86a686"/>
<rect x="502" y="473" width="46" height="1" fill="#7eac7e"/>
<rect x="548" y="473" width="45" height="1" fill="#9a9a90"/>
<rect x="593" y="473" width="47" height="1" fill="#909f90"/>
<rect x="92" y="487" width="45" height="1" fill="#bf8989"/>
<rect x="137" y="487" width="46" height="1" fill="#c18888"/>
<rect x="183" y="487" width="45" height="1" fill="#c08989"/>
<rect x="228" y="487" width="46" height="1" fill="#979b96"/>
<rect x="274" y="487" width="46" height="1" fill="#969b96"/>
<rect x="320" y="487" width="45" height="1" fill="#8aa38a"/>
<rect x="365" y="487" width="46" height="1" fill="#84a784"/>
<rect x="411" y="487" width="45" height="1" fill="#90a090"/>
<rect x="456" y="487" width="46" height="1" fill="#84a784"/>
<rect x="502" y="487" width="46" height="1" fill="#81aa81"/>
<rect x="548" y="487" width="45" height="1" fill="#88a588"/>
<rect x="593" y="487" width="47" height="1" fill="#909f90"/>
<rect x="92" y="501" width="45" height="1" fill="#c08989"/>
<rect x="137" y="501" width="46" height="1" fill="#c08888"/>
<rect x="183" y="501" width="45" height="1" fill="#be8989"/>
<rect x="228" y="501" width="46" height="1" fill="#9a9995"/>
<rect x="274" y="501" width="46" height="1" fill="#999998"/>
<rect x="320" y="501" width="45" height="1" fill="#90a090"/>
<rect x="365" y="501" width="46" height="1" fill="#87a687"/>
<rect x="411" y="501" width="45" height="1" fill="#8aa48a"/>
<rect x="456" y="501" width="46" height="1" fill="#84a784"/>
<rect x="502" y="501" width="46" height="1" fill="#84a884"/>
<rect x="548" y="501" width="45" height="1" fill="#84a884"/>
<rect x="593" y="501" width="47" height="1" fill="#87a687"/>
<rect x="92" y="515" width="45" height="1" fill="#be8989"/>
<rect x="137" y="515" width="46" height="1" fill="#c28787"/>
<rect x="183" y="515" width="45" height="1" fill="#be8989"/>
<rect x="228" y="515" width="46" height="1" fill="#9c9897"/>
<rect x="274" y="515" width="46" height="1" fill="#999998"/>
<rect x="320" y="515" width="45" height="1" fill="#9b9995"/>
<rect x="365" y="515" width="46" height="1" fill="#87a687"/>
<rect x="411" y="515" width="45" height="1" fill="#82a982"/>
<rect x="456" y="515" width="46" height="1" fill="#85a785"/>
<rect x="502" y="515" width="46" height="1" fill="#8aa38a"/>
<rect x="548" y="515" width="45" height="1" fill="#87a687"/>
<rect x="593" y="515" width="47" height="1" fill="#89a489"/>
<rect x="92" y="529" width="45" height="1" fill="#ba8b8b"/>
<rect x="137" y="529" width="46" height="1" fill="#c18888"/>
<rect x="183" y="529" width="45" height="1" fill="#c08989"/>
<rect x="228" y="529" width="46" height="1" fill="#929e92"/>
<rect x="274" y="529" width="46" height="1" fill="#9b9897"/>
<rect x="320" y="529" width="45" height="1" fill="#a29595"/>
<rect x="365" y="529" width="46" height="1" fill="#83a983"/>
<rect x="411" y="529" width="45" height="1" fill="#81aa81"/>
<rect x="456" y="529" width="46" height="1" fill="#85a785"/>
<rect x="502" y="529" width="46" height="1" fill="#949c94"/>
<rect x="548" y="529" width="45" height="1" fill="#8ea18e"/>
<rect x="593" y="529" width="47" height="1" fill="#8ea18e"/>
<rect x="92" y="543" width="45" height="1" fill="#c28787"/>
<rect x="137" y="543" width="46" height="1" fill="#bd8a8a"/>
<rect x="183" y="543" width="45" height="1" fill="#ba8b8b"/>
<rect x="228" y="543" width="46" height="1" fill="#959d91"/>
<rect x="274" y="543" width="46" height="1" fill="#979b93"/>
<rect x="320" y="543" width="45" height="1" fill="#9a9a94"/>
<rect x="365" y="543" width="46" height="1" fill="#82a982"/>
<rect x="411" y="543" width="45" height="1" fill="#82a982"/>
<rect x="456" y="543" width="46" height="1" fill="#8ba38b"/>
<rect x="502" y="543" width="46" height="1" fill="#949c94"/>
<rect x="548" y="543" width="45" height="1" fill="#949d94"/>
<rect x="593" y="543" width="47" height="1" fill="#88a588"/>
<rect x="92" y="557" width="45" height="1" fill="#c88585"/>
<rect x="137" y="557" width="46" height="1" fill="#bf8989"/>
<rect x="183" y="557" width="45" height="1" fill="#ba8b8b"/>
<rect x="228" y="557" width="46" height="1" fill="#959d91"/>
<rect x="274" y="557" width="46" height="1" fill="#909f90"/>
<rect x="320" y="557" width="45" height="1" fill="#959c95"/>
<rect x="365" y="557" width="46" height="1" fill="#85a785"/>
<rect x="411" y="557" width="45" height="1" fill="#87a687"/>
<rect x="456" y="557" width="46" height="1" fill="#909f90"/>
<rect x="502" y="557" width="46" height="1" fill="#8ca28c"/>
<rect x="548" y="557" width="45" height="1" fill="#8ea18e"/>
<rect x="593" y="557" width="47" height="1" fill="#87a687"/>
<rect x="92" y="571" width="45" height="1" fill="#c18888"/>
<rect x="137" y="571" width="46" height="1" fill="#c38787"/>
<rect x="183" y="571" width="45" height="1" fill="#c38787"/>
<rect x="228" y="571" width="46" height="1" fill="#89a589"/>
<rect x="274" y="571" width="46" height="1" fill="#8ea18e"/>
<rect x="320" y="571" width="45" height="1" fill="#949d94"/>
<rect x="365" y="571" width="46" height="1" fill="#88a588"/>
<rect x="411" y="571" width="45" height="1" fill="#8aa38a"/>
<rect x="456" y="571" width="46" height="1" fill="#90a090"/>
<rect x="502" y="571" width="46" height="1" fill="#8aa38a"/>
<rect x="548" y="571" width="45" height="1" fill="#8ca28c"/>
<rect x="593" y="571" width="47" height="1" fill="#8ba38b"/>
<rect x="92" y="585" width="45" height="1" fill="#b68d8d"/>
<rect x="137" y="585" width="46" height="1" fill="#c08888"/>
<rect x="183" y="585" width="45" height="1" fill="#c38787"/>
<rect x="228" y="585" width="46" height="1" fill="#9c9b8a"/>
<rect x="274" y="585" width="46" height="1" fill="#979c90"/>
<rect x="320" y="585" width="45" height="1" fill="#919e91"/>
<rect x="365" y="585" width="46" height="1" fill="#8fa08f"/>
<rect x="411" y="585" width="45" height="1" fill="#8ba38b"/>
<rect x="456" y="585" width="46" height="1" fill="#84a884"/>
<rect x="502" y="585" width="46" height="1" fill="#89a589"/>
<rect x="548" y="585" width="45" height="1" fill="#8ba38b"/>
<rect x="593" y="585" width="47" height="1" fill="#8ba38b"/>
<rect x="92" y="599" width="45" height="1" fill="#b08f8f"/>
<rect x="137" y="599" width="46" height="1" fill="#b98b8b"/>
<rect x="183" y="599" width="45" height="1" fill="#c38787"/>
<rect x="228" y="599" width="46" height="1" fill="#a29691"/>
<rect x="274" y="599" width="46" height="1" fill="#999a92"/>
<rect x="320" y="599" width="45" height="1" fill="#9a9994"/>
<rect x="365" y="599" width="46" height="1" fill="#969b96"/>
<rect x="411" y="599" width="45" height="1" fill="#969c91"/>
<rect x="456" y="599" width="46" height="1" fill="#7bae7b"/>
<rect x="502" y="599" width="46" height="1" fill="#90a090"/>
<rect x="548" y="599" width="45" height="1" fill="#81aa81"/>
<rect x="593" y="599" width="47" height="1" fill="#83a983"/>
<rect x="92" y="613" width="45" height="1" fill="#d2c9c9"/>
<rect x="137" y="613" width="46" height="1" fill="#d3c9c9"/>
<rect x="183" y="613" width="45" height="1" fill="#d6c8c8"/>
<rect x="228" y="613" width="46" height="1" fill="#cacdca"/>
<rect x="274" y="613" width="46" height="1" fill="#caceca"/>
<rect x="320" y="613" width="45" height="1" fill="#cecbcb"/>
<rect x="365" y="613" width="46" height="1" fill="#cbcccb"/>
<rect x="411" y="613" width="45" height="1" fill="#cecbcb"/>
<rect x="456" y="613" width="46" height="1" fill="#c6d0c6"/>
<rect x="502" y="613" width="46" height="1" fill="#cccccc"/>
<rect x="548" y="613" width="45" height="1" fill="#c6d0c6"/>
<rect x="593" y="613" width="47" height="1" fill="#c5d1c5"/>
<rect x="92" y="8" width="1" height="14" fill="#9e9e71"/>
<rect x="137" y="8" width="1" height="14" fill="#a3a34a"/>
<rect x="183" y="8" width="1" height="14" fill="#a3a34a"/>
<rect x="228" y="8" width="1" height="14" fill="#999999"/>
<rect x="274" y="8" width="1" height="14" fill="#8f8fe8"/>
<rect x="320" y="8" width="1" height="14" fill="#8f8fe8"/>
<rect x="365" y="8" width="1" height="14" fill="#75a1ce"/>
<rect x="411" y="8" width="1" height="14" fill="#5ab4b4"/>
<rect x="456" y="8" width="1" height="14" fill="#5ab4b4"/>
<rect x="502" y="8" width="1" height="14" fill="#9494c1"/>
<rect x="548" y="8" width="1" height="14" fill="#cd74cd"/>
<rect x="593" y="8" width="1" height="14" fill="#cd74cd"/>
<rect x="639" y="8" width="1" height="14" fill="#b387b3"/>
<rect x="92" y="8" width="136" height="1" fill="#9e9e71"/>
<rect x="92" y="21" width="136" height="1" fill="#9e9e71"/>
<rect x="228" y="8" width="137" height="1" fill="#9494c1"/>
<rect x="228" y="21" width="137" height="1" fill="#9494c1"/>
<rect x="365" y="8" width="137" height="1" fill="#7aa6a6"/>
<rect x="365" y="21" width="137" height="1" fill="#7aa6a6"/>
<rect x="502" y="8" width="138" height="1" fill="#b387b3"/>
<rect x="502" y="21" width="138" height="1" fill="#b387b3"/>
<rect x="74" y="25" width="1" height="14" fill="#a7987b"/>
<rect x="88" y="25" width="1" height="14" fill="#a7987b"/>
<rect x="74" y="39" width="1" height="14" fill="#a7987b"/>
<rect x="88" y="39" width="1" height="14" fill="#a7987b"/>
<rect x="74" y="53" width="1" height="14" fill="#a7987b"/>
<rect x="88" y="53" width="1" height="14" fill="#a7987b"/>
<rect x="74" y="67" width="1" height="14" fill="#a7987b"/>
<rect x="88" y="67" width="1" height="14" fill="#a7987b"/>
<rect x="74" y="81" width="1" height="14" fill="#a7987b"/>
<rect x="88" y="81" width="1" height="14" fill="#a7987b"/>
<rect x="74" y="95" width="1" height="14" fill="#a7987b"/>
<rect x="88" y="95" width="1" height="14" fill="#a7987b"/>
<rect x="74" y="109" width="1" height="14" fill="#a7987b"/>
<rect x="88" y="109" width="1" height="14" fill="#a7987b"/>
<rect x="74" y="123" width="1" height="14" fill="#a7987b"/>
<rect x="88" y="123" width="1" height="14" fill="#a7987b"/>
<rect x="74" y="137" width="1" height="14" fill="#a7987b"/>
<rect x="88" y="137" width="1" height="14" fill="#a7987b"/>
<rect x="74" y="151" width="1" height="14" fill="#a7987b"/>
<rect x="88" y="151" width="1" height="14" fill="#a7987b"/>
<rect x="74" y="165" width="1" height="14" fill="#a7987b"/>
<rect x="88" y="165" width="1" height="14" fill="#a7987b"/>
<rect x="74" y="179" width="1" height="14" fill="#a7987b"/>
<rect x="88" y="179" width="1" height="14" fill="#a7987b"/>
<rect x="74" y="193" width="1" height="14" fill="#a58eb3"/>
<rect x="88" y="193" width="1" height="14" fill="#a58eb3"/>
<rect x="74" y="207" width="1" height="14" fill="#a58eb3"/>
<rect x="88" y="207" width="1" height="14" fill="#a58eb3"/>
<rect x="74" y="221" width="1" height="14" fill="#a58eb3"/>
<rect x="88" y="221" width="1" height="14" fill="#a58eb3"/>
<rect x="74" y="235" width="1" height="14" fill="#a58eb3"/>
<rect x="88" y="235" width="1" height="14" fill="#a58eb3"/>
<rect x="74" y="249" width="1" height="14" fill="#a58eb3"/>
<rect x="88" y="249" width="1" height="14" fill="#a58eb3"/>
<rect x="74" y="263" width="1" height="14" fill="#a58eb3"/>
<rect x="88" y="263" width="1" height="14" fill="#a58eb3"/>
<rect x="74" y="277" width="1" height="14" fill="#a58eb3"/>
<rect x="88" y="277" width="1" height="14" fill="#a58eb3"/>
<rect x="74" y="291" width="1" height="14" fill="#a58eb3"/>
<rect x="88" y="291" width="1" height="14" fill="#a58eb3"/>
<rect x="74" y="305" width="1" height="14" fill="#a58eb3"/>
<rect x="88" y="305" width="1" height="14" fill="#a58eb3"/>
<rect x="74" y="319" width="1" height="14" fill="#a58eb3"/>
<rect x="88" y="319" width="1" height="14" fill="#a58eb3"/>
<rect x="74" y="333" width="1" height="14" fill="#a58eb3"/>
<rect x="88" y="333" width="1" height="14" fill="#a58eb3"/>
<rect x="74" y="347" width="1" height="14" fill="#a58eb3"/>
<rect x="88" y="347" width="1" height="14" fill="#a58eb3"/>
<rect x="74" y="361" width="1" height="14" fill="#a58eb3"/>
<rect x="88" y="361" width="1" height="14" fill="#a58eb3"/>
<rect x="74" y="375" width="1" height="14" fill="#a58eb3"/>
<rect x="88" y="375" width="1" height="14" fill="#a58eb3"/>
<rect x="74" y="389" width="1" height="14" fill="#a58eb3"/>
<rect x="88" y="389" width="1" height="14" fill="#a58eb3"/>
<rect x="74" y="403" width="1" height="14" fill="#a58eb3"/>
<rect x="88" y="403" width="1" height="14" fill="#a58eb3"/>
<rect x="74" y="417" width="1" height="14" fill="#a58eb3"/>
<rect x="88" y="417" width="1" height="14" fill="#a58eb3"/>
<rect x="74" y="431" width="1" height="14" fill="#a58eb3"/>
<rect x="88" y="431" width="1" height="14" fill="#a58eb3"/>
<rect x="74" y="445" width="1" height="14" fill="#a58eb3"/>
<rect x="88" y="445" width="1" height="14" fill="#a58eb3"/>
<rect x="74" y="459" width="1" height="14" fill="#a58eb3"/>
<rect x="88" y="459" width="1" height="14" fill="#a58eb3"/>
<rect x="74" y="473" width="1" height="14" fill="#a58eb3"/>
<rect x="88" y="473" width="1" height="14" fill="#a58eb3"/>
<rect x="74" y="487" width="1" height="14" fill="#a58eb3"/>
<rect x="88" y="487" width="1" height="14" fill="#a58eb3"/>
<rect x="74" y="501" width="1" height="14" fill="#a58eb3"/>
<rect x="88" y="501" width="1" height="14" fill="#a58eb3"/>
<rect x="74" y="515" width="1" height="14" fill="#a58eb3"/>
<rect x="88" y="515" width="1" height="14" fill="#a58eb3"/>
<rect x="74" y="529" width="1" height="14" fill="#a58eb3"/>
<rect x="88" y="529" width="1" height="14" fill="#a58eb3"/>
<rect x="74" y="543" width="1" height="14" fill="#a58eb3"/>
<rect x="88" y="543" width="1" height="14" fill="#a58eb3"/>
<rect x="74" y="557" width="1" height="14" fill="#a58eb3"/>
<rect x="88" y="557" width="1" height="14" fill="#a58eb3"/>
<rect x="74" y="571" width="1" height="14" fill="#a58eb3"/>
<rect x="88" y="571" width="1" height="14" fill="#a58eb3"/>
<rect x="74" y="585" width="1" height="14" fill="#a58eb3"/>
<rect x="88" y="585" width="1" height="14" fill="#a58eb3"/>
<rect x="74" y="599" width="1" height="14" fill="#a58eb3"/>
<rect x="88" y="599" width="1" height="14" fill="#a58eb3"/>
<rect x="74" y="25" width="15" height="1" fill="#a7987b"/>
<rect x="74" y="39" width="15" height="1" fill="#b6965c"/>
<rect x="74" y="53" width="15" height="1" fill="#b6965c"/>
<rect x="74" y="67" width="15" height="1" fill="#b6965c"/>
<rect x="74" y="81" width="15" height="1" fill="#b6965c"/>
<rect x="74" y="95" width="15" height="1" fill="#b6965c"/>
<rect x="74" y="109" width="15" height="1" fill="#b6965c"/>
<rect x="74" y="123" width="15" height="1" fill="#b6965c"/>
<rect x="74" y="137" width="15" height="1" fill="#b6965c"/>
<rect x="74" y="151" width="15" height="1" fill="#b6965c"/>
<rect x="74" y="165" width="15" height="1" fill="#b6965c"/>
<rect x="74" y="179" width="15" height="1" fill="#b6965c"/>
<rect x="74" y="193" width="15" height="1" fill="#b38d94"/>
<rect x="74" y="207" width="15" height="1" fill="#b083cc"/>
<rect x="74" y="221" width="15" height="1" fill="#b083cc"/>
<rect x="74" y="235" width="15" height="1" fill="#b083cc"/>
<rect x="74" y="249" width="15" height="1" fill="#b083cc"/>
<rect x="74" y="263" width="15" height="1" fill="#b083cc"/>
<rect x="74" y="277" width="15" height="1" fill="#b083cc"/>
<rect x="74" y="291" width="15" height="1" fill="#b083cc"/>
<rect x="74" y="305" width="15" height="1" fill="#b083cc"/>
<rect x="74" y="319" width="15" height="1" fill="#b083cc"/>
<rect x="74" y="333" width="15" height="1" fill="#b083cc"/>
<rect x="74" y="347" width="15" height="1" fill="#b083cc"/>
<rect x="74" y="361" width="15" height="1" fill="#b083cc"/>
<rect x="74" y="375" width="15" height="1" fill="#b083cc"/>
<rect x="74" y="389" width="15" height="1" fill="#b083cc"/>
<rect x="74" y="403" width="15" height="1" fill="#b083cc"/>
<rect x="74" y="417" width="15" height="1" fill="#b083cc"/>
<rect x="74" y="431" width="15" height="1" fill="#b083cc"/>
<rect x="74" y="445" width="15" height="1" fill="#b083cc"/>
<rect x="74" y="459" width="15" height="1" fill="#b083cc"/>
<rect x="74" y="473" width="15" height="1" fill="#b083cc"/>
<rect x="74" y="487" width="15" height="1" fill="#b083cc"/>
<rect x="74" y="501" width="15" height="1" fill="#b083cc"/>
<rect x="74" y="515" width="15" height="1" fill="#b083cc"/>
<rect x="74" y="529" width="15" height="1" fill="#b083cc"/>
<rect x="74" y="543" width="15" height="1" fill="#b083cc"/>
<rect x="74" y="557" width="15" height="1" fill="#b083cc"/>
<rect x="74" y="571" width="15" height="1" fill="#b083cc"/>
<rect x="74" y="585" width="15" height="1" fill="#b083cc"/>
<rect x="74" y="599" width="15" height="1" fill="#b083cc"/>
<rect x="74" y="613" width="15" height="1" fill="#a58eb3"/>
</g>
<g font-size="7.7" fill="#000">
<text x="643.3" y="35.8">Dazap2</text>
<text x="643.3" y="49.8">Znf512b</text>
<text x="643.3" y="63.8">Mxd1</text>
<text x="643.3" y="77.8">Sp1</text>
<text x="643.3" y="91.8">Meox1</text>
<text x="643.3" y="105.8">Tbx4</text>
<text x="643.3" y="119.8">Mef2d</text>
<text x="643.3" y="133.8">Tcf7</text>
<text x="643.3" y="147.8">Rarg</text>
<text x="643.3" y="161.8">Trim25</text>
<text x="643.3" y="175.8">Tbx2</text>
<text x="643.3" y="189.8">Mnt</text>
<text x="643.3" y="203.8">Pax9</text>
<text x="643.3" y="217.8">Hoxa10</text>
<text x="643.3" y="231.8">Ilf2</text>
<text x="643.3" y="245.8">Myf5</text>
<text x="643.3" y="259.8">Dnmt3l</text>
<text x="643.3" y="273.8">Polr3d</text>
<text x="643.3" y="287.8">Dlx3</text>
<text x="643.3" y="301.8">Tbx21</text>
<text x="643.3" y="315.8">Tcfe3</text>
<text x="643.3" y="329.8">Hoxb6</text>
<text x="643.3" y="343.8">Hoxa4</text>
<text x="643.3" y="357.8">Lhx2</text>
<text x="643.3" y="371.8">Bcl6b</text>
<text x="643.3" y="385.8">Zfp385a</text>
<text x="643.3" y="399.8">Scml2</text>
<text x="643.3" y="413.8">Tulp3</text>
<text x="643.3" y="427.8">Snd1</text>
<text x="643.3" y="441.8">Irx2</text>
<text x="643.3" y="455.8">Sox9</text>
<text x="643.3" y="469.8">Pparg</text>
<text x="643.3" y="483.8">Hnrnpd</text>
<text x="643.3" y="497.8">Fmr1</text>
<text x="643.3" y="511.8">Smarcb1</text>
<text x="643.3" y="525.8">Bcl11a</text>
<text x="643.3" y="539.8">Zfp276</text>
<text x="643.3" y="553.8">Aire</text>
<text x="643.3" y="567.8">Klf6</text>
<text x="643.3" y="581.8">Scmh1</text>
<text x="643.3" y="595.8">Kat2b</text>
<text x="643.3" y="609.8">Foxm1</text>
</g>
<g font-size="12">
<text transform="translate(107.6,617.2) rotate(90) scale(1,1.22)">S0h1</text>
<text transform="translate(153.18,617.2) rotate(90) scale(1,1.22)">S0h2</text>
<text transform="translate(198.77,617.2) rotate(90) scale(1,1.22)">S0h3</text>
<text transform="translate(244.35,617.2) rotate(90) scale(1,1.22)">S1h1</text>
<text transform="translate(289.93,617.2) rotate(90) scale(1,1.22)">S1h2</text>
<text transform="translate(335.51,617.2) rotate(90) scale(1,1.22)">S1h3</text>
<text transform="translate(381.1,617.2) rotate(90) scale(1,1.22)">S2h1</text>
<text transform="translate(426.68,617.2) rotate(90) scale(1,1.22)">S2h2</text>
<text transform="translate(472.26,617.2) rotate(90) scale(1,1.22)">S2h3</text>
<text transform="translate(517.85,617.2) rotate(90) scale(1,1.22)">S3h1</text>
<text transform="translate(563.43,617.2) rotate(90) scale(1,1.22)">S3h2</text>
<text transform="translate(609.01,617.2) rotate(90) scale(1,1.22)">S3h3</text>
</g>
<text font-size="12.8" font-weight="bold" transform="translate(73.8,617.1) rotate(90) scale(1,1.17)">GeneClass</text>
<text font-size="13.2" font-weight="bold" x="644.2" y="20.3">Samples</text>
<path d="M74.5 74.5H73.5V88.5H74.5M74.5 102.5H73.5V116.5H74.5M73.5 81.5H72.5V109.5H73.5M74.5 130.5H72.5V144.5H74.5M72.5 95.5H71.5V137.5H72.5M74.5 60.5H70.5V116.5H71.5M74.5 46.5H68.5V88.5H70.5M74.5 172.5H72.5V186.5H74.5M74.5 158.5H68.5V179.5H72.5M68.5 67.5H64.5V168.5H68.5M74.5 32.5H58.5V118.5H64.5M74.5 242.5H72.5V256.5H74.5M74.5 228.5H70.5V249.5H72.5M74.5 214.5H67.5V238.5H70.5M74.5 200.5H49.5V226.5H67.5M74.5 312.5H73.5V326.5H74.5M74.5 298.5H72.5V319.5H73.5M74.5 284.5H70.5V308.5H72.5M74.5 354.5H72.5V368.5H74.5M74.5 396.5H72.5V410.5H74.5M74.5 424.5H72.5V438.5H74.5M72.5 403.5H71.5V431.5H72.5M74.5 382.5H70.5V417.5H71.5M72.5 361.5H69.5V399.5H70.5M74.5 340.5H68.5V380.5H69.5M70.5 296.5H65.5V360.5H68.5M74.5 270.5H59.5V328.5H65.5M74.5 494.5H72.5V508.5H74.5M74.5 480.5H71.5V501.5H72.5M74.5 522.5H71.5V536.5H74.5M74.5 564.5H72.5V578.5H74.5M74.5 550.5H69.5V571.5H72.5M71.5 529.5H68.5V560.5H69.5M71.5 490.5H67.5V545.5H68.5M74.5 466.5H67.5V517.5H67.5M74.5 592.5H65.5V606.5H74.5M67.5 492.5H57.5V599.5H65.5M74.5 452.5H56.5V545.5H57.5M59.5 299.5H44.5V499.5H56.5M49.5 213.5H23.5V399.5H44.5M58.5 75.5H3.5V306.5H23.5" fill="none" stroke="#000" stroke-width="1" shape-rendering="crispEdges"/>
<defs><linearGradient id="cb" x1="0" y1="0" x2="0" y2="1"><stop offset="0" stop-color="#ff0000"/><stop offset="0.5" stop-color="#000000"/><stop offset="1" stop-color="#00ff00"/></linearGradient></defs>
<rect x="703" y="6" width="13.2" height="199.9" fill="url(#cb)"/>
<g font-size="12.4">
<text x="722.4" y="36.7">2</text>
<text x="722.4" y="74.6">1</text>
<text x="722.4" y="112.4">0</text>
<text x="722.4" y="149.6">-1</text>
<text x="722.4" y="188.1">-2</text>
</g>
<text font-size="13" font-weight="bold" x="744.1" y="17.6">Samples</text>
<g shape-rendering="crispEdges">
<rect x="743" y="23" width="23" height="22" fill="#ffff00"/>
<rect x="743" y="45" width="23" height="22" fill="#0000ff"/>
<rect x="743" y="67" width="23" height="22" fill="#00ffff"/>
<rect x="743" y="89" width="23" height="22" fill="#ff00ff"/>
<rect x="743" y="144" width="23" height="22" fill="#ffa500"/>
<rect x="743" y="166" width="23" height="22" fill="#a020f0"/>
<path d="M743 23h23v1h-23zM743 45h23v1h-23zM743 67h23v1h-23zM743 89h23v1h-23zM743 111h23v1h-23zM743 144h23v1h-23zM743 166h23v1h-23zM743 188h23v1h-23zM743 23h1v89h-1zM765 23h1v89h-1zM743 144h1v45h-1zM765 144h1v45h-1z" fill="#999999"/>
</g>
<g font-size="12.6">
<text x="769.6" y="39.5">S0h</text>
<text x="769.6" y="61.5">S1h</text>
<text x="769.6" y="83.5">S2h</text>
<text x="769.6" y="105.5">S3h</text>
<text x="769.6" y="160.7">Cluster1</text>
<text x="769.6" y="182.7">Cluster2</text>
</g>
<text font-size="13" font-weight="bold" x="743.4" y="138.5">GeneClass</text>
</svg></body></html>
